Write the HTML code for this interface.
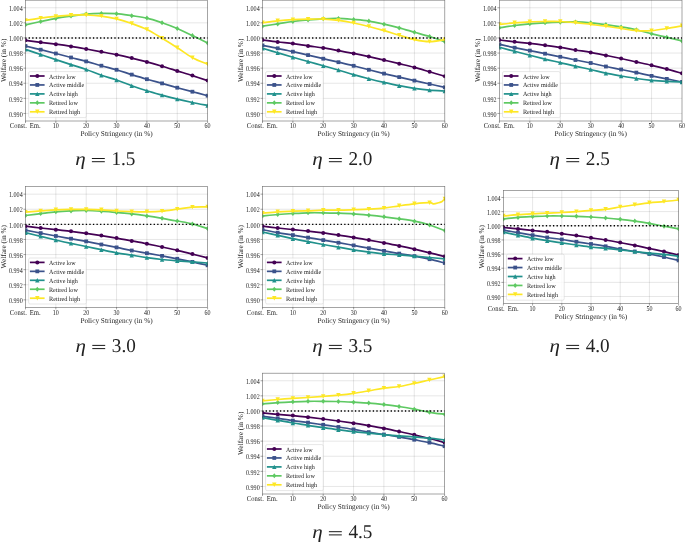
<!DOCTYPE html>
<html><head><meta charset="utf-8"><style>
html,body{margin:0;padding:0;background:#fff;overflow:hidden;}
svg{display:block;font-family:"Liberation Serif",serif;text-rendering:geometricPrecision;will-change:transform;}
text{fill:#222;}
</style></head><body>
<svg width="685" height="542" viewBox="0 0 685 542">
<rect width="685" height="542" fill="#fff"/>
<clipPath id="clip25_0"><rect x="25.5" y="0.2" width="182.1" height="120.8"/></clipPath>
<path d="M55.85 0.2V121M86.2 0.2V121M116.55 0.2V121M146.9 0.2V121M177.25 0.2V121" stroke="#000" stroke-opacity="0.14" stroke-width="0.7" fill="none"/>
<path d="M25.5 113.45H207.6M25.5 98.35H207.6M25.5 83.25H207.6M25.5 68.15H207.6M25.5 53.05H207.6M25.5 37.95H207.6M25.5 22.85H207.6M25.5 7.75H207.6" stroke="#000" stroke-opacity="0.14" stroke-width="0.7" fill="none"/>
<g clip-path="url(#clip25_0)"><path d="M25.5 40.3C28.03 40.63 35.62 41.65 40.67 42.3C45.73 42.95 50.79 43.52 55.85 44.2C60.91 44.88 65.97 45.6 71.03 46.4C76.08 47.2 81.14 48.1 86.2 49C91.26 49.9 96.32 50.85 101.38 51.8C106.43 52.75 111.49 53.65 116.55 54.7C121.61 55.75 126.67 56.9 131.73 58.1C136.78 59.3 141.84 60.55 146.9 61.9C151.96 63.25 157.02 64.7 162.07 66.2C167.13 67.7 172.19 69.33 177.25 70.9C182.31 72.47 187.37 73.98 192.42 75.6C197.48 77.22 205.07 79.77 207.6 80.6" stroke="#440154" stroke-width="1.7" fill="none" stroke-linejoin="round"/><circle cx="25.5" cy="40.3" r="2" fill="#440154"/><circle cx="40.67" cy="42.3" r="2" fill="#440154"/><circle cx="55.85" cy="44.2" r="2" fill="#440154"/><circle cx="71.03" cy="46.4" r="2" fill="#440154"/><circle cx="86.2" cy="49" r="2" fill="#440154"/><circle cx="101.38" cy="51.8" r="2" fill="#440154"/><circle cx="116.55" cy="54.7" r="2" fill="#440154"/><circle cx="131.73" cy="58.1" r="2" fill="#440154"/><circle cx="146.9" cy="61.9" r="2" fill="#440154"/><circle cx="162.07" cy="66.2" r="2" fill="#440154"/><circle cx="177.25" cy="70.9" r="2" fill="#440154"/><circle cx="192.42" cy="75.6" r="2" fill="#440154"/><circle cx="207.6" cy="80.6" r="2" fill="#440154"/><path d="M25.5 46C28.03 46.62 35.62 48.45 40.67 49.7C45.73 50.95 50.79 52.2 55.85 53.5C60.91 54.8 65.97 56.18 71.03 57.5C76.08 58.82 81.14 60.03 86.2 61.4C91.26 62.77 96.32 64.3 101.38 65.7C106.43 67.1 111.49 68.32 116.55 69.8C121.61 71.28 126.67 73.03 131.73 74.6C136.78 76.17 141.84 77.73 146.9 79.2C151.96 80.67 157.02 81.98 162.07 83.4C167.13 84.82 172.19 86.32 177.25 87.7C182.31 89.08 187.37 90.37 192.42 91.7C197.48 93.03 205.07 95.03 207.6 95.7" stroke="#3b528b" stroke-width="1.7" fill="none" stroke-linejoin="round"/><rect x="23.6" y="44.1" width="3.8" height="3.8" fill="#3b528b"/><rect x="38.77" y="47.8" width="3.8" height="3.8" fill="#3b528b"/><rect x="53.95" y="51.6" width="3.8" height="3.8" fill="#3b528b"/><rect x="69.12" y="55.6" width="3.8" height="3.8" fill="#3b528b"/><rect x="84.3" y="59.5" width="3.8" height="3.8" fill="#3b528b"/><rect x="99.47" y="63.8" width="3.8" height="3.8" fill="#3b528b"/><rect x="114.65" y="67.9" width="3.8" height="3.8" fill="#3b528b"/><rect x="129.83" y="72.7" width="3.8" height="3.8" fill="#3b528b"/><rect x="145" y="77.3" width="3.8" height="3.8" fill="#3b528b"/><rect x="160.17" y="81.5" width="3.8" height="3.8" fill="#3b528b"/><rect x="175.35" y="85.8" width="3.8" height="3.8" fill="#3b528b"/><rect x="190.52" y="89.8" width="3.8" height="3.8" fill="#3b528b"/><rect x="205.7" y="93.8" width="3.8" height="3.8" fill="#3b528b"/><path d="M25.5 49.4C28.03 50.25 35.62 52.8 40.67 54.5C45.73 56.2 50.79 57.92 55.85 59.6C60.91 61.28 65.97 62.95 71.03 64.6C76.08 66.25 81.14 67.73 86.2 69.5C91.26 71.27 96.32 73.45 101.38 75.2C106.43 76.95 111.49 78.25 116.55 80C121.61 81.75 126.67 83.9 131.73 85.7C136.78 87.5 141.84 89.23 146.9 90.8C151.96 92.37 157.02 93.72 162.07 95.1C167.13 96.48 172.19 97.87 177.25 99.1C182.31 100.33 187.37 101.43 192.42 102.5C197.48 103.57 205.07 105 207.6 105.5" stroke="#21918c" stroke-width="1.7" fill="none" stroke-linejoin="round"/><path d="M25.5 47.2L27.7 51.6L23.3 51.6Z" fill="#21918c"/><path d="M40.67 52.3L42.88 56.7L38.47 56.7Z" fill="#21918c"/><path d="M55.85 57.4L58.05 61.8L53.65 61.8Z" fill="#21918c"/><path d="M71.03 62.4L73.23 66.8L68.83 66.8Z" fill="#21918c"/><path d="M86.2 67.3L88.4 71.7L84 71.7Z" fill="#21918c"/><path d="M101.38 73L103.58 77.4L99.17 77.4Z" fill="#21918c"/><path d="M116.55 77.8L118.75 82.2L114.35 82.2Z" fill="#21918c"/><path d="M131.73 83.5L133.93 87.9L129.53 87.9Z" fill="#21918c"/><path d="M146.9 88.6L149.1 93L144.7 93Z" fill="#21918c"/><path d="M162.07 92.9L164.27 97.3L159.88 97.3Z" fill="#21918c"/><path d="M177.25 96.9L179.45 101.3L175.05 101.3Z" fill="#21918c"/><path d="M192.42 100.3L194.62 104.7L190.22 104.7Z" fill="#21918c"/><path d="M207.6 103.3L209.8 107.7L205.4 107.7Z" fill="#21918c"/><path d="M25.5 24.8C28.03 24.25 35.62 22.57 40.67 21.5C45.73 20.43 50.79 19.3 55.85 18.4C60.91 17.5 65.97 16.82 71.03 16.1C76.08 15.38 81.14 14.55 86.2 14.1C91.26 13.65 96.32 13.47 101.38 13.4C106.43 13.33 111.49 13.32 116.55 13.7C121.61 14.08 126.67 14.97 131.73 15.7C136.78 16.43 141.84 16.92 146.9 18.1C151.96 19.28 157.02 21.07 162.07 22.8C167.13 24.53 172.19 26.37 177.25 28.5C182.31 30.63 187.37 33.18 192.42 35.6C197.48 38.02 205.07 41.77 207.6 43" stroke="#5ec962" stroke-width="1.7" fill="none" stroke-linejoin="round"/><path d="M25.5 22.3L27.5 24.8L25.5 27.3L23.5 24.8Z" fill="#5ec962"/><path d="M40.67 19L42.67 21.5L40.67 24L38.67 21.5Z" fill="#5ec962"/><path d="M55.85 15.9L57.85 18.4L55.85 20.9L53.85 18.4Z" fill="#5ec962"/><path d="M71.03 13.6L73.03 16.1L71.03 18.6L69.03 16.1Z" fill="#5ec962"/><path d="M86.2 11.6L88.2 14.1L86.2 16.6L84.2 14.1Z" fill="#5ec962"/><path d="M101.38 10.9L103.38 13.4L101.38 15.9L99.38 13.4Z" fill="#5ec962"/><path d="M116.55 11.2L118.55 13.7L116.55 16.2L114.55 13.7Z" fill="#5ec962"/><path d="M131.73 13.2L133.73 15.7L131.73 18.2L129.73 15.7Z" fill="#5ec962"/><path d="M146.9 15.6L148.9 18.1L146.9 20.6L144.9 18.1Z" fill="#5ec962"/><path d="M162.07 20.3L164.07 22.8L162.07 25.3L160.07 22.8Z" fill="#5ec962"/><path d="M177.25 26L179.25 28.5L177.25 31L175.25 28.5Z" fill="#5ec962"/><path d="M192.42 33.1L194.42 35.6L192.42 38.1L190.42 35.6Z" fill="#5ec962"/><path d="M207.6 40.5L209.6 43L207.6 45.5L205.6 43Z" fill="#5ec962"/><path d="M25.5 20.4C28.03 20.02 35.62 18.77 40.67 18.1C45.73 17.43 50.79 16.88 55.85 16.4C60.91 15.92 65.97 15.43 71.03 15.2C76.08 14.97 81.14 14.85 86.2 15C91.26 15.15 96.32 15.45 101.38 16.1C106.43 16.75 111.49 17.67 116.55 18.9C121.61 20.13 126.67 21.73 131.73 23.5C136.78 25.27 141.84 27.03 146.9 29.5C151.96 31.97 157.02 35.27 162.07 38.3C167.13 41.33 172.19 44.47 177.25 47.7C182.31 50.93 187.37 54.95 192.42 57.7C197.48 60.45 205.07 63.12 207.6 64.2" stroke="#fde725" stroke-width="1.7" fill="none" stroke-linejoin="round"/><path d="M25.5 22.6L27.7 18.2L23.3 18.2Z" fill="#fde725"/><path d="M40.67 20.3L42.88 15.9L38.47 15.9Z" fill="#fde725"/><path d="M55.85 18.6L58.05 14.2L53.65 14.2Z" fill="#fde725"/><path d="M71.03 17.4L73.23 13L68.83 13Z" fill="#fde725"/><path d="M86.2 17.2L88.4 12.8L84 12.8Z" fill="#fde725"/><path d="M101.38 18.3L103.58 13.9L99.17 13.9Z" fill="#fde725"/><path d="M116.55 21.1L118.75 16.7L114.35 16.7Z" fill="#fde725"/><path d="M131.73 25.7L133.93 21.3L129.53 21.3Z" fill="#fde725"/><path d="M146.9 31.7L149.1 27.3L144.7 27.3Z" fill="#fde725"/><path d="M162.07 40.5L164.27 36.1L159.88 36.1Z" fill="#fde725"/><path d="M177.25 49.9L179.45 45.5L175.05 45.5Z" fill="#fde725"/><path d="M192.42 59.9L194.62 55.5L190.22 55.5Z" fill="#fde725"/><path d="M207.6 66.4L209.8 62L205.4 62Z" fill="#fde725"/></g>
<path d="M25.5 37.95H207.6" stroke="#000" stroke-width="1.35" stroke-dasharray="1.35 2.221" stroke-dashoffset="0.45" fill="none"/>
<rect x="28.6" y="71.6" width="57.7" height="46" rx="1.5" fill="#fff" fill-opacity="0.8" stroke="#ccc" stroke-opacity="0.8" stroke-width="0.6"/>
<path d="M29.9 76H44.6" stroke="#440154" stroke-width="1.7"/>
<circle cx="37.3" cy="76" r="2" fill="#440154"/>
<text x="49" y="78.5" font-size="6.4" text-anchor="start" textLength="26.6" lengthAdjust="spacingAndGlyphs">Active low</text>
<path d="M29.9 84.95H44.6" stroke="#3b528b" stroke-width="1.7"/>
<rect x="35.4" y="83.05" width="3.8" height="3.8" fill="#3b528b"/>
<text x="49" y="87.45" font-size="6.4" text-anchor="start" textLength="35.2" lengthAdjust="spacingAndGlyphs">Active middle</text>
<path d="M29.9 93.9H44.6" stroke="#21918c" stroke-width="1.7"/>
<path d="M37.3 91.7L39.5 96.1L35.1 96.1Z" fill="#21918c"/>
<text x="49" y="96.4" font-size="6.4" text-anchor="start" textLength="28.8" lengthAdjust="spacingAndGlyphs">Active high</text>
<path d="M29.9 102.85H44.6" stroke="#5ec962" stroke-width="1.7"/>
<path d="M37.3 100.35L39.3 102.85L37.3 105.35L35.3 102.85Z" fill="#5ec962"/>
<text x="49" y="105.35" font-size="6.4" text-anchor="start" textLength="28.9" lengthAdjust="spacingAndGlyphs">Retired low</text>
<path d="M29.9 111.8H44.6" stroke="#fde725" stroke-width="1.7"/>
<path d="M37.3 114L39.5 109.6L35.1 109.6Z" fill="#fde725"/>
<text x="49" y="114.3" font-size="6.4" text-anchor="start" textLength="31.2" lengthAdjust="spacingAndGlyphs">Retired high</text>
<rect x="25.5" y="0.2" width="182.1" height="120.8" fill="none" stroke="#000" stroke-opacity="0.55" stroke-width="0.65"/>
<path d="M25.5 121v2.0M55.85 121v2.0M86.2 121v2.0M116.55 121v2.0M146.9 121v2.0M177.25 121v2.0M207.6 121v2.0M25.5 113.45h-2.0M25.5 98.35h-2.0M25.5 83.25h-2.0M25.5 68.15h-2.0M25.5 53.05h-2.0M25.5 37.95h-2.0M25.5 22.85h-2.0M25.5 7.75h-2.0" stroke="#000" stroke-opacity="0.55" stroke-width="0.65"/>
<text x="22.7" y="116.65" font-size="7.5" text-anchor="end" textLength="13.7" lengthAdjust="spacingAndGlyphs">0.990</text>
<text x="22.7" y="101.55" font-size="7.5" text-anchor="end" textLength="13.7" lengthAdjust="spacingAndGlyphs">0.992</text>
<text x="22.7" y="86.45" font-size="7.5" text-anchor="end" textLength="13.7" lengthAdjust="spacingAndGlyphs">0.994</text>
<text x="22.7" y="71.35" font-size="7.5" text-anchor="end" textLength="13.7" lengthAdjust="spacingAndGlyphs">0.996</text>
<text x="22.7" y="56.25" font-size="7.5" text-anchor="end" textLength="13.7" lengthAdjust="spacingAndGlyphs">0.998</text>
<text x="22.7" y="41.15" font-size="7.5" text-anchor="end" textLength="13.7" lengthAdjust="spacingAndGlyphs">1.000</text>
<text x="22.7" y="26.05" font-size="7.5" text-anchor="end" textLength="13.7" lengthAdjust="spacingAndGlyphs">1.002</text>
<text x="22.7" y="10.95" font-size="7.5" text-anchor="end" textLength="13.7" lengthAdjust="spacingAndGlyphs">1.004</text>
<text x="9.8" y="128.4" font-size="7.5" text-anchor="start" textLength="17" lengthAdjust="spacingAndGlyphs">Const.</text>
<text x="29.8" y="128.4" font-size="7.5" text-anchor="start" textLength="10.9" lengthAdjust="spacingAndGlyphs">Em.</text>
<text x="55.85" y="128.4" font-size="7.5" text-anchor="middle" textLength="6" lengthAdjust="spacingAndGlyphs">10</text>
<text x="86.2" y="128.4" font-size="7.5" text-anchor="middle" textLength="6" lengthAdjust="spacingAndGlyphs">20</text>
<text x="116.55" y="128.4" font-size="7.5" text-anchor="middle" textLength="6" lengthAdjust="spacingAndGlyphs">30</text>
<text x="146.9" y="128.4" font-size="7.5" text-anchor="middle" textLength="6" lengthAdjust="spacingAndGlyphs">40</text>
<text x="177.25" y="128.4" font-size="7.5" text-anchor="middle" textLength="6" lengthAdjust="spacingAndGlyphs">50</text>
<text x="207.6" y="128.4" font-size="7.5" text-anchor="middle" textLength="6" lengthAdjust="spacingAndGlyphs">60</text>
<text x="116.55" y="136.2" font-size="7.4" text-anchor="middle" textLength="72.3" lengthAdjust="spacingAndGlyphs">Policy Stringency (in %)</text>
<text transform="translate(6.3 60.3) rotate(-90)" x="0" y="0" font-size="7.4" text-anchor="middle" textLength="43.4" lengthAdjust="spacingAndGlyphs">Welfare (in %)</text>
<text transform="translate(75.2 165.1) scale(1.12 1)" x="0" y="0" font-size="18.8" font-style="italic">η</text>
<path d="M91.9 158.5h12.9M91.9 161.7h12.9" stroke="#1a1a1a" stroke-width="1.0"/>
<text x="135.4" y="164.8" font-size="19.5" text-anchor="end" textLength="24.0" lengthAdjust="spacingAndGlyphs">1.5</text>
<clipPath id="clip262_0"><rect x="262.5" y="0.2" width="182.3" height="120.8"/></clipPath>
<path d="M292.88 0.2V121M323.27 0.2V121M353.65 0.2V121M384.03 0.2V121M414.42 0.2V121" stroke="#000" stroke-opacity="0.14" stroke-width="0.7" fill="none"/>
<path d="M262.5 113.45H444.8M262.5 98.35H444.8M262.5 83.25H444.8M262.5 68.15H444.8M262.5 53.05H444.8M262.5 37.95H444.8M262.5 22.85H444.8M262.5 7.75H444.8" stroke="#000" stroke-opacity="0.14" stroke-width="0.7" fill="none"/>
<g clip-path="url(#clip262_0)"><path d="M262.5 40C265.03 40.33 272.63 41.4 277.69 42C282.76 42.6 287.82 42.95 292.88 43.6C297.95 44.25 303.01 45.18 308.07 45.9C313.14 46.62 318.2 47.12 323.27 47.9C328.33 48.68 333.39 49.68 338.46 50.6C343.52 51.52 348.59 52.4 353.65 53.4C358.71 54.4 363.78 55.48 368.84 56.6C373.91 57.72 378.97 58.92 384.03 60.1C389.1 61.28 394.16 62.48 399.23 63.7C404.29 64.92 409.35 66.05 414.42 67.4C419.48 68.75 424.54 70.32 429.61 71.8C434.67 73.28 442.27 75.55 444.8 76.3" stroke="#440154" stroke-width="1.7" fill="none" stroke-linejoin="round"/><circle cx="262.5" cy="40" r="2" fill="#440154"/><circle cx="277.69" cy="42" r="2" fill="#440154"/><circle cx="292.88" cy="43.6" r="2" fill="#440154"/><circle cx="308.07" cy="45.9" r="2" fill="#440154"/><circle cx="323.27" cy="47.9" r="2" fill="#440154"/><circle cx="338.46" cy="50.6" r="2" fill="#440154"/><circle cx="353.65" cy="53.4" r="2" fill="#440154"/><circle cx="368.84" cy="56.6" r="2" fill="#440154"/><circle cx="384.03" cy="60.1" r="2" fill="#440154"/><circle cx="399.23" cy="63.7" r="2" fill="#440154"/><circle cx="414.42" cy="67.4" r="2" fill="#440154"/><circle cx="429.61" cy="71.8" r="2" fill="#440154"/><circle cx="444.8" cy="76.3" r="2" fill="#440154"/><path d="M262.5 45.4C265.03 45.88 272.63 47.25 277.69 48.3C282.76 49.35 287.82 50.57 292.88 51.7C297.95 52.83 303.01 53.93 308.07 55.1C313.14 56.27 318.2 57.52 323.27 58.7C328.33 59.88 333.39 61.02 338.46 62.2C343.52 63.38 348.59 64.53 353.65 65.8C358.71 67.07 363.78 68.5 368.84 69.8C373.91 71.1 378.97 72.38 384.03 73.6C389.1 74.82 394.16 75.93 399.23 77.1C404.29 78.27 409.35 79.45 414.42 80.6C419.48 81.75 424.54 82.88 429.61 84C434.67 85.12 442.27 86.75 444.8 87.3" stroke="#3b528b" stroke-width="1.7" fill="none" stroke-linejoin="round"/><rect x="260.6" y="43.5" width="3.8" height="3.8" fill="#3b528b"/><rect x="275.79" y="46.4" width="3.8" height="3.8" fill="#3b528b"/><rect x="290.98" y="49.8" width="3.8" height="3.8" fill="#3b528b"/><rect x="306.18" y="53.2" width="3.8" height="3.8" fill="#3b528b"/><rect x="321.37" y="56.8" width="3.8" height="3.8" fill="#3b528b"/><rect x="336.56" y="60.3" width="3.8" height="3.8" fill="#3b528b"/><rect x="351.75" y="63.9" width="3.8" height="3.8" fill="#3b528b"/><rect x="366.94" y="67.9" width="3.8" height="3.8" fill="#3b528b"/><rect x="382.13" y="71.7" width="3.8" height="3.8" fill="#3b528b"/><rect x="397.33" y="75.2" width="3.8" height="3.8" fill="#3b528b"/><rect x="412.52" y="78.7" width="3.8" height="3.8" fill="#3b528b"/><rect x="427.71" y="82.1" width="3.8" height="3.8" fill="#3b528b"/><rect x="442.9" y="85.4" width="3.8" height="3.8" fill="#3b528b"/><path d="M262.5 48.3C265.03 49.05 272.63 51.3 277.69 52.8C282.76 54.3 287.82 55.85 292.88 57.3C297.95 58.75 303.01 60.08 308.07 61.5C313.14 62.92 318.2 64.38 323.27 65.8C328.33 67.22 333.39 68.53 338.46 70C343.52 71.47 348.59 73.15 353.65 74.6C358.71 76.05 363.78 77.4 368.84 78.7C373.91 80 378.97 81.23 384.03 82.4C389.1 83.57 394.16 84.72 399.23 85.7C404.29 86.68 409.35 87.57 414.42 88.3C419.48 89.03 424.54 89.65 429.61 90.1C434.67 90.55 442.27 90.85 444.8 91" stroke="#21918c" stroke-width="1.7" fill="none" stroke-linejoin="round"/><path d="M262.5 46.1L264.7 50.5L260.3 50.5Z" fill="#21918c"/><path d="M277.69 50.6L279.89 55L275.49 55Z" fill="#21918c"/><path d="M292.88 55.1L295.08 59.5L290.68 59.5Z" fill="#21918c"/><path d="M308.07 59.3L310.27 63.7L305.88 63.7Z" fill="#21918c"/><path d="M323.27 63.6L325.47 68L321.07 68Z" fill="#21918c"/><path d="M338.46 67.8L340.66 72.2L336.26 72.2Z" fill="#21918c"/><path d="M353.65 72.4L355.85 76.8L351.45 76.8Z" fill="#21918c"/><path d="M368.84 76.5L371.04 80.9L366.64 80.9Z" fill="#21918c"/><path d="M384.03 80.2L386.23 84.6L381.83 84.6Z" fill="#21918c"/><path d="M399.23 83.5L401.43 87.9L397.03 87.9Z" fill="#21918c"/><path d="M414.42 86.1L416.62 90.5L412.22 90.5Z" fill="#21918c"/><path d="M429.61 87.9L431.81 92.3L427.41 92.3Z" fill="#21918c"/><path d="M444.8 88.8L447 93.2L442.6 93.2Z" fill="#21918c"/><path d="M262.5 26.2C265.03 25.82 272.63 24.68 277.69 23.9C282.76 23.12 287.82 22.17 292.88 21.5C297.95 20.83 303.01 20.35 308.07 19.9C313.14 19.45 318.2 19.05 323.27 18.8C328.33 18.55 333.39 18.28 338.46 18.4C343.52 18.52 348.59 19.05 353.65 19.5C358.71 19.95 363.78 20.32 368.84 21.1C373.91 21.88 378.97 23.07 384.03 24.2C389.1 25.33 394.16 26.57 399.23 27.9C404.29 29.23 409.35 30.77 414.42 32.2C419.48 33.63 424.54 34.93 429.61 36.5C434.67 38.07 442.27 40.75 444.8 41.6" stroke="#5ec962" stroke-width="1.7" fill="none" stroke-linejoin="round"/><path d="M262.5 23.7L264.5 26.2L262.5 28.7L260.5 26.2Z" fill="#5ec962"/><path d="M277.69 21.4L279.69 23.9L277.69 26.4L275.69 23.9Z" fill="#5ec962"/><path d="M292.88 19L294.88 21.5L292.88 24L290.88 21.5Z" fill="#5ec962"/><path d="M308.07 17.4L310.07 19.9L308.07 22.4L306.07 19.9Z" fill="#5ec962"/><path d="M323.27 16.3L325.27 18.8L323.27 21.3L321.27 18.8Z" fill="#5ec962"/><path d="M338.46 15.9L340.46 18.4L338.46 20.9L336.46 18.4Z" fill="#5ec962"/><path d="M353.65 17L355.65 19.5L353.65 22L351.65 19.5Z" fill="#5ec962"/><path d="M368.84 18.6L370.84 21.1L368.84 23.6L366.84 21.1Z" fill="#5ec962"/><path d="M384.03 21.7L386.03 24.2L384.03 26.7L382.03 24.2Z" fill="#5ec962"/><path d="M399.23 25.4L401.23 27.9L399.23 30.4L397.23 27.9Z" fill="#5ec962"/><path d="M414.42 29.7L416.42 32.2L414.42 34.7L412.42 32.2Z" fill="#5ec962"/><path d="M429.61 34L431.61 36.5L429.61 39L427.61 36.5Z" fill="#5ec962"/><path d="M444.8 39.1L446.8 41.6L444.8 44.1L442.8 41.6Z" fill="#5ec962"/><path d="M262.5 22.8C265.03 22.47 272.63 21.33 277.69 20.8C282.76 20.27 287.82 19.88 292.88 19.6C297.95 19.32 303.01 19.18 308.07 19.1C313.14 19.02 318.2 18.88 323.27 19.1C328.33 19.32 333.39 19.75 338.46 20.4C343.52 21.05 348.59 21.98 353.65 23C358.71 24.02 363.78 25.23 368.84 26.5C373.91 27.77 378.97 29.15 384.03 30.6C389.1 32.05 394.16 33.7 399.23 35.2C404.29 36.7 409.35 38.53 414.42 39.6C419.48 40.67 424.54 41.6 429.61 41.6C434.67 41.6 442.27 39.93 444.8 39.6" stroke="#fde725" stroke-width="1.7" fill="none" stroke-linejoin="round"/><path d="M262.5 25L264.7 20.6L260.3 20.6Z" fill="#fde725"/><path d="M277.69 23L279.89 18.6L275.49 18.6Z" fill="#fde725"/><path d="M292.88 21.8L295.08 17.4L290.68 17.4Z" fill="#fde725"/><path d="M308.07 21.3L310.27 16.9L305.88 16.9Z" fill="#fde725"/><path d="M323.27 21.3L325.47 16.9L321.07 16.9Z" fill="#fde725"/><path d="M338.46 22.6L340.66 18.2L336.26 18.2Z" fill="#fde725"/><path d="M353.65 25.2L355.85 20.8L351.45 20.8Z" fill="#fde725"/><path d="M368.84 28.7L371.04 24.3L366.64 24.3Z" fill="#fde725"/><path d="M384.03 32.8L386.23 28.4L381.83 28.4Z" fill="#fde725"/><path d="M399.23 37.4L401.43 33L397.03 33Z" fill="#fde725"/><path d="M414.42 41.8L416.62 37.4L412.22 37.4Z" fill="#fde725"/><path d="M429.61 43.8L431.81 39.4L427.41 39.4Z" fill="#fde725"/><path d="M444.8 41.8L447 37.4L442.6 37.4Z" fill="#fde725"/></g>
<path d="M262.5 37.95H444.8" stroke="#000" stroke-width="1.35" stroke-dasharray="1.35 2.221" stroke-dashoffset="0.45" fill="none"/>
<rect x="265.6" y="71.6" width="57.7" height="46" rx="1.5" fill="#fff" fill-opacity="0.8" stroke="#ccc" stroke-opacity="0.8" stroke-width="0.6"/>
<path d="M266.9 76H281.6" stroke="#440154" stroke-width="1.7"/>
<circle cx="274.3" cy="76" r="2" fill="#440154"/>
<text x="286" y="78.5" font-size="6.4" text-anchor="start" textLength="26.6" lengthAdjust="spacingAndGlyphs">Active low</text>
<path d="M266.9 84.95H281.6" stroke="#3b528b" stroke-width="1.7"/>
<rect x="272.4" y="83.05" width="3.8" height="3.8" fill="#3b528b"/>
<text x="286" y="87.45" font-size="6.4" text-anchor="start" textLength="35.2" lengthAdjust="spacingAndGlyphs">Active middle</text>
<path d="M266.9 93.9H281.6" stroke="#21918c" stroke-width="1.7"/>
<path d="M274.3 91.7L276.5 96.1L272.1 96.1Z" fill="#21918c"/>
<text x="286" y="96.4" font-size="6.4" text-anchor="start" textLength="28.8" lengthAdjust="spacingAndGlyphs">Active high</text>
<path d="M266.9 102.85H281.6" stroke="#5ec962" stroke-width="1.7"/>
<path d="M274.3 100.35L276.3 102.85L274.3 105.35L272.3 102.85Z" fill="#5ec962"/>
<text x="286" y="105.35" font-size="6.4" text-anchor="start" textLength="28.9" lengthAdjust="spacingAndGlyphs">Retired low</text>
<path d="M266.9 111.8H281.6" stroke="#fde725" stroke-width="1.7"/>
<path d="M274.3 114L276.5 109.6L272.1 109.6Z" fill="#fde725"/>
<text x="286" y="114.3" font-size="6.4" text-anchor="start" textLength="31.2" lengthAdjust="spacingAndGlyphs">Retired high</text>
<rect x="262.5" y="0.2" width="182.3" height="120.8" fill="none" stroke="#000" stroke-opacity="0.55" stroke-width="0.65"/>
<path d="M262.5 121v2.0M292.88 121v2.0M323.27 121v2.0M353.65 121v2.0M384.03 121v2.0M414.42 121v2.0M444.8 121v2.0M262.5 113.45h-2.0M262.5 98.35h-2.0M262.5 83.25h-2.0M262.5 68.15h-2.0M262.5 53.05h-2.0M262.5 37.95h-2.0M262.5 22.85h-2.0M262.5 7.75h-2.0" stroke="#000" stroke-opacity="0.55" stroke-width="0.65"/>
<text x="259.7" y="116.65" font-size="7.5" text-anchor="end" textLength="13.7" lengthAdjust="spacingAndGlyphs">0.990</text>
<text x="259.7" y="101.55" font-size="7.5" text-anchor="end" textLength="13.7" lengthAdjust="spacingAndGlyphs">0.992</text>
<text x="259.7" y="86.45" font-size="7.5" text-anchor="end" textLength="13.7" lengthAdjust="spacingAndGlyphs">0.994</text>
<text x="259.7" y="71.35" font-size="7.5" text-anchor="end" textLength="13.7" lengthAdjust="spacingAndGlyphs">0.996</text>
<text x="259.7" y="56.25" font-size="7.5" text-anchor="end" textLength="13.7" lengthAdjust="spacingAndGlyphs">0.998</text>
<text x="259.7" y="41.15" font-size="7.5" text-anchor="end" textLength="13.7" lengthAdjust="spacingAndGlyphs">1.000</text>
<text x="259.7" y="26.05" font-size="7.5" text-anchor="end" textLength="13.7" lengthAdjust="spacingAndGlyphs">1.002</text>
<text x="259.7" y="10.95" font-size="7.5" text-anchor="end" textLength="13.7" lengthAdjust="spacingAndGlyphs">1.004</text>
<text x="246.8" y="128.4" font-size="7.5" text-anchor="start" textLength="17" lengthAdjust="spacingAndGlyphs">Const.</text>
<text x="266.8" y="128.4" font-size="7.5" text-anchor="start" textLength="10.9" lengthAdjust="spacingAndGlyphs">Em.</text>
<text x="292.88" y="128.4" font-size="7.5" text-anchor="middle" textLength="6" lengthAdjust="spacingAndGlyphs">10</text>
<text x="323.27" y="128.4" font-size="7.5" text-anchor="middle" textLength="6" lengthAdjust="spacingAndGlyphs">20</text>
<text x="353.65" y="128.4" font-size="7.5" text-anchor="middle" textLength="6" lengthAdjust="spacingAndGlyphs">30</text>
<text x="384.03" y="128.4" font-size="7.5" text-anchor="middle" textLength="6" lengthAdjust="spacingAndGlyphs">40</text>
<text x="414.42" y="128.4" font-size="7.5" text-anchor="middle" textLength="6" lengthAdjust="spacingAndGlyphs">50</text>
<text x="444.8" y="128.4" font-size="7.5" text-anchor="middle" textLength="6" lengthAdjust="spacingAndGlyphs">60</text>
<text x="353.65" y="136.2" font-size="7.4" text-anchor="middle" textLength="72.3" lengthAdjust="spacingAndGlyphs">Policy Stringency (in %)</text>
<text transform="translate(243.3 60.3) rotate(-90)" x="0" y="0" font-size="7.4" text-anchor="middle" textLength="43.4" lengthAdjust="spacingAndGlyphs">Welfare (in %)</text>
<text transform="translate(312.2 165.1) scale(1.12 1)" x="0" y="0" font-size="18.8" font-style="italic">η</text>
<path d="M328.9 158.5h12.9M328.9 161.7h12.9" stroke="#1a1a1a" stroke-width="1.0"/>
<text x="372.4" y="164.8" font-size="19.5" text-anchor="end" textLength="24.0" lengthAdjust="spacingAndGlyphs">2.0</text>
<clipPath id="clip499_0"><rect x="499.4" y="0.2" width="182.6" height="120.8"/></clipPath>
<path d="M529.83 0.2V121M560.27 0.2V121M590.7 0.2V121M621.13 0.2V121M651.57 0.2V121" stroke="#000" stroke-opacity="0.14" stroke-width="0.7" fill="none"/>
<path d="M499.4 113.45H682M499.4 98.35H682M499.4 83.25H682M499.4 68.15H682M499.4 53.05H682M499.4 37.95H682M499.4 22.85H682M499.4 7.75H682" stroke="#000" stroke-opacity="0.14" stroke-width="0.7" fill="none"/>
<g clip-path="url(#clip499_0)"><path d="M499.4 40C501.94 40.3 509.54 41.23 514.62 41.8C519.69 42.37 524.76 42.82 529.83 43.4C534.91 43.98 539.98 44.63 545.05 45.3C550.12 45.97 555.19 46.62 560.27 47.4C565.34 48.18 570.41 49.17 575.48 50C580.56 50.83 585.63 51.5 590.7 52.4C595.77 53.3 600.84 54.38 605.92 55.4C610.99 56.42 616.06 57.42 621.13 58.5C626.21 59.58 631.28 60.77 636.35 61.9C641.42 63.03 646.49 64.1 651.57 65.3C656.64 66.5 661.71 67.77 666.78 69.1C671.86 70.43 679.46 72.6 682 73.3" stroke="#440154" stroke-width="1.7" fill="none" stroke-linejoin="round"/><circle cx="499.4" cy="40" r="2" fill="#440154"/><circle cx="514.62" cy="41.8" r="2" fill="#440154"/><circle cx="529.83" cy="43.4" r="2" fill="#440154"/><circle cx="545.05" cy="45.3" r="2" fill="#440154"/><circle cx="560.27" cy="47.4" r="2" fill="#440154"/><circle cx="575.48" cy="50" r="2" fill="#440154"/><circle cx="590.7" cy="52.4" r="2" fill="#440154"/><circle cx="605.92" cy="55.4" r="2" fill="#440154"/><circle cx="621.13" cy="58.5" r="2" fill="#440154"/><circle cx="636.35" cy="61.9" r="2" fill="#440154"/><circle cx="651.57" cy="65.3" r="2" fill="#440154"/><circle cx="666.78" cy="69.1" r="2" fill="#440154"/><circle cx="682" cy="73.3" r="2" fill="#440154"/><path d="M499.4 44.3C501.94 44.87 509.54 46.65 514.62 47.7C519.69 48.75 524.76 49.6 529.83 50.6C534.91 51.6 539.98 52.67 545.05 53.7C550.12 54.73 555.19 55.75 560.27 56.8C565.34 57.85 570.41 58.97 575.48 60C580.56 61.03 585.63 61.92 590.7 63C595.77 64.08 600.84 65.42 605.92 66.5C610.99 67.58 616.06 68.48 621.13 69.5C626.21 70.52 631.28 71.53 636.35 72.6C641.42 73.67 646.49 74.85 651.57 75.9C656.64 76.95 661.71 77.88 666.78 78.9C671.86 79.92 679.46 81.48 682 82" stroke="#3b528b" stroke-width="1.7" fill="none" stroke-linejoin="round"/><rect x="497.5" y="42.4" width="3.8" height="3.8" fill="#3b528b"/><rect x="512.72" y="45.8" width="3.8" height="3.8" fill="#3b528b"/><rect x="527.93" y="48.7" width="3.8" height="3.8" fill="#3b528b"/><rect x="543.15" y="51.8" width="3.8" height="3.8" fill="#3b528b"/><rect x="558.37" y="54.9" width="3.8" height="3.8" fill="#3b528b"/><rect x="573.58" y="58.1" width="3.8" height="3.8" fill="#3b528b"/><rect x="588.8" y="61.1" width="3.8" height="3.8" fill="#3b528b"/><rect x="604.02" y="64.6" width="3.8" height="3.8" fill="#3b528b"/><rect x="619.23" y="67.6" width="3.8" height="3.8" fill="#3b528b"/><rect x="634.45" y="70.7" width="3.8" height="3.8" fill="#3b528b"/><rect x="649.67" y="74" width="3.8" height="3.8" fill="#3b528b"/><rect x="664.88" y="77" width="3.8" height="3.8" fill="#3b528b"/><rect x="680.1" y="80.1" width="3.8" height="3.8" fill="#3b528b"/><path d="M499.4 47.3C501.94 47.97 509.54 49.97 514.62 51.3C519.69 52.63 524.76 54 529.83 55.3C534.91 56.6 539.98 57.88 545.05 59.1C550.12 60.32 555.19 61.42 560.27 62.6C565.34 63.78 570.41 65.05 575.48 66.2C580.56 67.35 585.63 68.33 590.7 69.5C595.77 70.67 600.84 72.12 605.92 73.2C610.99 74.28 616.06 75.12 621.13 76C626.21 76.88 631.28 77.78 636.35 78.5C641.42 79.22 646.49 79.82 651.57 80.3C656.64 80.78 661.71 81.12 666.78 81.4C671.86 81.68 679.46 81.9 682 82" stroke="#21918c" stroke-width="1.7" fill="none" stroke-linejoin="round"/><path d="M499.4 45.1L501.6 49.5L497.2 49.5Z" fill="#21918c"/><path d="M514.62 49.1L516.82 53.5L512.42 53.5Z" fill="#21918c"/><path d="M529.83 53.1L532.03 57.5L527.63 57.5Z" fill="#21918c"/><path d="M545.05 56.9L547.25 61.3L542.85 61.3Z" fill="#21918c"/><path d="M560.27 60.4L562.47 64.8L558.07 64.8Z" fill="#21918c"/><path d="M575.48 64L577.68 68.4L573.28 68.4Z" fill="#21918c"/><path d="M590.7 67.3L592.9 71.7L588.5 71.7Z" fill="#21918c"/><path d="M605.92 71L608.12 75.4L603.72 75.4Z" fill="#21918c"/><path d="M621.13 73.8L623.33 78.2L618.93 78.2Z" fill="#21918c"/><path d="M636.35 76.3L638.55 80.7L634.15 80.7Z" fill="#21918c"/><path d="M651.57 78.1L653.77 82.5L649.37 82.5Z" fill="#21918c"/><path d="M666.78 79.2L668.98 83.6L664.58 83.6Z" fill="#21918c"/><path d="M682 79.8L684.2 84.2L679.8 84.2Z" fill="#21918c"/><path d="M499.4 27.8C501.94 27.42 509.54 26.17 514.62 25.5C519.69 24.83 524.76 24.25 529.83 23.8C534.91 23.35 539.98 23.07 545.05 22.8C550.12 22.53 555.19 22.35 560.27 22.2C565.34 22.05 570.41 21.8 575.48 21.9C580.56 22 585.63 22.35 590.7 22.8C595.77 23.25 600.84 23.92 605.92 24.6C610.99 25.28 616.06 26.03 621.13 26.9C626.21 27.77 631.28 28.65 636.35 29.8C641.42 30.95 646.49 32.55 651.57 33.8C656.64 35.05 661.71 36.1 666.78 37.3C671.86 38.5 679.46 40.38 682 41" stroke="#5ec962" stroke-width="1.7" fill="none" stroke-linejoin="round"/><path d="M499.4 25.3L501.4 27.8L499.4 30.3L497.4 27.8Z" fill="#5ec962"/><path d="M514.62 23L516.62 25.5L514.62 28L512.62 25.5Z" fill="#5ec962"/><path d="M529.83 21.3L531.83 23.8L529.83 26.3L527.83 23.8Z" fill="#5ec962"/><path d="M545.05 20.3L547.05 22.8L545.05 25.3L543.05 22.8Z" fill="#5ec962"/><path d="M560.27 19.7L562.27 22.2L560.27 24.7L558.27 22.2Z" fill="#5ec962"/><path d="M575.48 19.4L577.48 21.9L575.48 24.4L573.48 21.9Z" fill="#5ec962"/><path d="M590.7 20.3L592.7 22.8L590.7 25.3L588.7 22.8Z" fill="#5ec962"/><path d="M605.92 22.1L607.92 24.6L605.92 27.1L603.92 24.6Z" fill="#5ec962"/><path d="M621.13 24.4L623.13 26.9L621.13 29.4L619.13 26.9Z" fill="#5ec962"/><path d="M636.35 27.3L638.35 29.8L636.35 32.3L634.35 29.8Z" fill="#5ec962"/><path d="M651.57 31.3L653.57 33.8L651.57 36.3L649.57 33.8Z" fill="#5ec962"/><path d="M666.78 34.8L668.78 37.3L666.78 39.8L664.78 37.3Z" fill="#5ec962"/><path d="M682 38.5L684 41L682 43.5L680 41Z" fill="#5ec962"/><path d="M499.4 24.4C501.94 24.13 509.54 23.23 514.62 22.8C519.69 22.37 524.76 22.02 529.83 21.8C534.91 21.58 539.98 21.55 545.05 21.5C550.12 21.45 555.19 21.32 560.27 21.5C565.34 21.68 570.41 22.12 575.48 22.6C580.56 23.08 585.63 23.8 590.7 24.4C595.77 25 600.84 25.52 605.92 26.2C610.99 26.88 616.06 27.77 621.13 28.5C626.21 29.23 631.28 30.25 636.35 30.6C641.42 30.95 646.49 30.95 651.57 30.6C656.64 30.25 661.71 29.3 666.78 28.5C671.86 27.7 679.46 26.25 682 25.8" stroke="#fde725" stroke-width="1.7" fill="none" stroke-linejoin="round"/><path d="M499.4 26.6L501.6 22.2L497.2 22.2Z" fill="#fde725"/><path d="M514.62 25L516.82 20.6L512.42 20.6Z" fill="#fde725"/><path d="M529.83 24L532.03 19.6L527.63 19.6Z" fill="#fde725"/><path d="M545.05 23.7L547.25 19.3L542.85 19.3Z" fill="#fde725"/><path d="M560.27 23.7L562.47 19.3L558.07 19.3Z" fill="#fde725"/><path d="M575.48 24.8L577.68 20.4L573.28 20.4Z" fill="#fde725"/><path d="M590.7 26.6L592.9 22.2L588.5 22.2Z" fill="#fde725"/><path d="M605.92 28.4L608.12 24L603.72 24Z" fill="#fde725"/><path d="M621.13 30.7L623.33 26.3L618.93 26.3Z" fill="#fde725"/><path d="M636.35 32.8L638.55 28.4L634.15 28.4Z" fill="#fde725"/><path d="M651.57 32.8L653.77 28.4L649.37 28.4Z" fill="#fde725"/><path d="M666.78 30.7L668.98 26.3L664.58 26.3Z" fill="#fde725"/><path d="M682 28L684.2 23.6L679.8 23.6Z" fill="#fde725"/></g>
<path d="M499.4 37.95H682" stroke="#000" stroke-width="1.35" stroke-dasharray="1.35 2.221" stroke-dashoffset="0.45" fill="none"/>
<rect x="502.5" y="71.6" width="57.7" height="46" rx="1.5" fill="#fff" fill-opacity="0.8" stroke="#ccc" stroke-opacity="0.8" stroke-width="0.6"/>
<path d="M503.8 76H518.5" stroke="#440154" stroke-width="1.7"/>
<circle cx="511.2" cy="76" r="2" fill="#440154"/>
<text x="522.9" y="78.5" font-size="6.4" text-anchor="start" textLength="26.6" lengthAdjust="spacingAndGlyphs">Active low</text>
<path d="M503.8 84.95H518.5" stroke="#3b528b" stroke-width="1.7"/>
<rect x="509.3" y="83.05" width="3.8" height="3.8" fill="#3b528b"/>
<text x="522.9" y="87.45" font-size="6.4" text-anchor="start" textLength="35.2" lengthAdjust="spacingAndGlyphs">Active middle</text>
<path d="M503.8 93.9H518.5" stroke="#21918c" stroke-width="1.7"/>
<path d="M511.2 91.7L513.4 96.1L509 96.1Z" fill="#21918c"/>
<text x="522.9" y="96.4" font-size="6.4" text-anchor="start" textLength="28.8" lengthAdjust="spacingAndGlyphs">Active high</text>
<path d="M503.8 102.85H518.5" stroke="#5ec962" stroke-width="1.7"/>
<path d="M511.2 100.35L513.2 102.85L511.2 105.35L509.2 102.85Z" fill="#5ec962"/>
<text x="522.9" y="105.35" font-size="6.4" text-anchor="start" textLength="28.9" lengthAdjust="spacingAndGlyphs">Retired low</text>
<path d="M503.8 111.8H518.5" stroke="#fde725" stroke-width="1.7"/>
<path d="M511.2 114L513.4 109.6L509 109.6Z" fill="#fde725"/>
<text x="522.9" y="114.3" font-size="6.4" text-anchor="start" textLength="31.2" lengthAdjust="spacingAndGlyphs">Retired high</text>
<rect x="499.4" y="0.2" width="182.6" height="120.8" fill="none" stroke="#000" stroke-opacity="0.55" stroke-width="0.65"/>
<path d="M499.4 121v2.0M529.83 121v2.0M560.27 121v2.0M590.7 121v2.0M621.13 121v2.0M651.57 121v2.0M682 121v2.0M499.4 113.45h-2.0M499.4 98.35h-2.0M499.4 83.25h-2.0M499.4 68.15h-2.0M499.4 53.05h-2.0M499.4 37.95h-2.0M499.4 22.85h-2.0M499.4 7.75h-2.0" stroke="#000" stroke-opacity="0.55" stroke-width="0.65"/>
<text x="496.6" y="116.65" font-size="7.5" text-anchor="end" textLength="13.7" lengthAdjust="spacingAndGlyphs">0.990</text>
<text x="496.6" y="101.55" font-size="7.5" text-anchor="end" textLength="13.7" lengthAdjust="spacingAndGlyphs">0.992</text>
<text x="496.6" y="86.45" font-size="7.5" text-anchor="end" textLength="13.7" lengthAdjust="spacingAndGlyphs">0.994</text>
<text x="496.6" y="71.35" font-size="7.5" text-anchor="end" textLength="13.7" lengthAdjust="spacingAndGlyphs">0.996</text>
<text x="496.6" y="56.25" font-size="7.5" text-anchor="end" textLength="13.7" lengthAdjust="spacingAndGlyphs">0.998</text>
<text x="496.6" y="41.15" font-size="7.5" text-anchor="end" textLength="13.7" lengthAdjust="spacingAndGlyphs">1.000</text>
<text x="496.6" y="26.05" font-size="7.5" text-anchor="end" textLength="13.7" lengthAdjust="spacingAndGlyphs">1.002</text>
<text x="496.6" y="10.95" font-size="7.5" text-anchor="end" textLength="13.7" lengthAdjust="spacingAndGlyphs">1.004</text>
<text x="483.7" y="128.4" font-size="7.5" text-anchor="start" textLength="17" lengthAdjust="spacingAndGlyphs">Const.</text>
<text x="503.7" y="128.4" font-size="7.5" text-anchor="start" textLength="10.9" lengthAdjust="spacingAndGlyphs">Em.</text>
<text x="529.83" y="128.4" font-size="7.5" text-anchor="middle" textLength="6" lengthAdjust="spacingAndGlyphs">10</text>
<text x="560.27" y="128.4" font-size="7.5" text-anchor="middle" textLength="6" lengthAdjust="spacingAndGlyphs">20</text>
<text x="590.7" y="128.4" font-size="7.5" text-anchor="middle" textLength="6" lengthAdjust="spacingAndGlyphs">30</text>
<text x="621.13" y="128.4" font-size="7.5" text-anchor="middle" textLength="6" lengthAdjust="spacingAndGlyphs">40</text>
<text x="651.57" y="128.4" font-size="7.5" text-anchor="middle" textLength="6" lengthAdjust="spacingAndGlyphs">50</text>
<text x="682" y="128.4" font-size="7.5" text-anchor="middle" textLength="6" lengthAdjust="spacingAndGlyphs">60</text>
<text x="590.7" y="136.2" font-size="7.4" text-anchor="middle" textLength="72.3" lengthAdjust="spacingAndGlyphs">Policy Stringency (in %)</text>
<text transform="translate(480.2 60.3) rotate(-90)" x="0" y="0" font-size="7.4" text-anchor="middle" textLength="43.4" lengthAdjust="spacingAndGlyphs">Welfare (in %)</text>
<text transform="translate(549.6 165.1) scale(1.12 1)" x="0" y="0" font-size="18.8" font-style="italic">η</text>
<path d="M566.3 158.5h12.9M566.3 161.7h12.9" stroke="#1a1a1a" stroke-width="1.0"/>
<text x="609.8" y="164.8" font-size="19.5" text-anchor="end" textLength="24.0" lengthAdjust="spacingAndGlyphs">2.5</text>
<clipPath id="clip25_186"><rect x="25.5" y="186.6" width="182.1" height="120.8"/></clipPath>
<path d="M55.85 186.6V307.4M86.2 186.6V307.4M116.55 186.6V307.4M146.9 186.6V307.4M177.25 186.6V307.4" stroke="#000" stroke-opacity="0.14" stroke-width="0.7" fill="none"/>
<path d="M25.5 299.85H207.6M25.5 284.75H207.6M25.5 269.65H207.6M25.5 254.55H207.6M25.5 239.45H207.6M25.5 224.35H207.6M25.5 209.25H207.6M25.5 194.15H207.6" stroke="#000" stroke-opacity="0.14" stroke-width="0.7" fill="none"/>
<g clip-path="url(#clip25_186)"><path d="M25.5 226.2C28.03 226.5 35.62 227.42 40.67 228C45.73 228.58 50.79 229.15 55.85 229.7C60.91 230.25 65.97 230.7 71.03 231.3C76.08 231.9 81.14 232.58 86.2 233.3C91.26 234.02 96.32 234.8 101.38 235.6C106.43 236.4 111.49 237.22 116.55 238.1C121.61 238.98 126.67 239.95 131.73 240.9C136.78 241.85 141.84 242.78 146.9 243.8C151.96 244.82 157.02 245.92 162.07 247C167.13 248.08 172.19 249.12 177.25 250.3C182.31 251.48 187.37 252.83 192.42 254.1C197.48 255.37 205.07 257.27 207.6 257.9" stroke="#440154" stroke-width="1.7" fill="none" stroke-linejoin="round"/><circle cx="25.5" cy="226.2" r="2" fill="#440154"/><circle cx="40.67" cy="228" r="2" fill="#440154"/><circle cx="55.85" cy="229.7" r="2" fill="#440154"/><circle cx="71.03" cy="231.3" r="2" fill="#440154"/><circle cx="86.2" cy="233.3" r="2" fill="#440154"/><circle cx="101.38" cy="235.6" r="2" fill="#440154"/><circle cx="116.55" cy="238.1" r="2" fill="#440154"/><circle cx="131.73" cy="240.9" r="2" fill="#440154"/><circle cx="146.9" cy="243.8" r="2" fill="#440154"/><circle cx="162.07" cy="247" r="2" fill="#440154"/><circle cx="177.25" cy="250.3" r="2" fill="#440154"/><circle cx="192.42" cy="254.1" r="2" fill="#440154"/><circle cx="207.6" cy="257.9" r="2" fill="#440154"/><path d="M25.5 230.2C28.03 230.68 35.62 232.13 40.67 233.1C45.73 234.07 50.79 235.07 55.85 236C60.91 236.93 65.97 237.8 71.03 238.7C76.08 239.6 81.14 240.43 86.2 241.4C91.26 242.37 96.32 243.5 101.38 244.5C106.43 245.5 111.49 246.4 116.55 247.4C121.61 248.4 126.67 249.53 131.73 250.5C136.78 251.47 141.84 252.3 146.9 253.2C151.96 254.1 157.02 254.97 162.07 255.9C167.13 256.83 172.19 257.8 177.25 258.8C182.31 259.8 187.37 260.82 192.42 261.9C197.48 262.98 205.07 264.73 207.6 265.3" stroke="#3b528b" stroke-width="1.7" fill="none" stroke-linejoin="round"/><rect x="23.6" y="228.3" width="3.8" height="3.8" fill="#3b528b"/><rect x="38.77" y="231.2" width="3.8" height="3.8" fill="#3b528b"/><rect x="53.95" y="234.1" width="3.8" height="3.8" fill="#3b528b"/><rect x="69.12" y="236.8" width="3.8" height="3.8" fill="#3b528b"/><rect x="84.3" y="239.5" width="3.8" height="3.8" fill="#3b528b"/><rect x="99.47" y="242.6" width="3.8" height="3.8" fill="#3b528b"/><rect x="114.65" y="245.5" width="3.8" height="3.8" fill="#3b528b"/><rect x="129.83" y="248.6" width="3.8" height="3.8" fill="#3b528b"/><rect x="145" y="251.3" width="3.8" height="3.8" fill="#3b528b"/><rect x="160.17" y="254" width="3.8" height="3.8" fill="#3b528b"/><rect x="175.35" y="256.9" width="3.8" height="3.8" fill="#3b528b"/><rect x="190.52" y="260" width="3.8" height="3.8" fill="#3b528b"/><rect x="205.7" y="263.4" width="3.8" height="3.8" fill="#3b528b"/><path d="M25.5 232.7C28.03 233.32 35.62 235.18 40.67 236.4C45.73 237.62 50.79 238.83 55.85 240C60.91 241.17 65.97 242.32 71.03 243.4C76.08 244.48 81.14 245.45 86.2 246.5C91.26 247.55 96.32 248.65 101.38 249.7C106.43 250.75 111.49 251.88 116.55 252.8C121.61 253.72 126.67 254.4 131.73 255.2C136.78 256 141.84 256.88 146.9 257.6C151.96 258.32 157.02 258.97 162.07 259.5C167.13 260.03 172.19 260.4 177.25 260.8C182.31 261.2 187.37 261.53 192.42 261.9C197.48 262.27 205.07 262.82 207.6 263" stroke="#21918c" stroke-width="1.7" fill="none" stroke-linejoin="round"/><path d="M25.5 230.5L27.7 234.9L23.3 234.9Z" fill="#21918c"/><path d="M40.67 234.2L42.88 238.6L38.47 238.6Z" fill="#21918c"/><path d="M55.85 237.8L58.05 242.2L53.65 242.2Z" fill="#21918c"/><path d="M71.03 241.2L73.23 245.6L68.83 245.6Z" fill="#21918c"/><path d="M86.2 244.3L88.4 248.7L84 248.7Z" fill="#21918c"/><path d="M101.38 247.5L103.58 251.9L99.17 251.9Z" fill="#21918c"/><path d="M116.55 250.6L118.75 255L114.35 255Z" fill="#21918c"/><path d="M131.73 253L133.93 257.4L129.53 257.4Z" fill="#21918c"/><path d="M146.9 255.4L149.1 259.8L144.7 259.8Z" fill="#21918c"/><path d="M162.07 257.3L164.27 261.7L159.88 261.7Z" fill="#21918c"/><path d="M177.25 258.6L179.45 263L175.05 263Z" fill="#21918c"/><path d="M192.42 259.7L194.62 264.1L190.22 264.1Z" fill="#21918c"/><path d="M207.6 260.8L209.8 265.2L205.4 265.2Z" fill="#21918c"/><path d="M25.5 215.5C28.03 215.18 35.62 214.22 40.67 213.6C45.73 212.98 50.79 212.25 55.85 211.8C60.91 211.35 65.97 211.12 71.03 210.9C76.08 210.68 81.14 210.45 86.2 210.5C91.26 210.55 96.32 210.87 101.38 211.2C106.43 211.53 111.49 212.05 116.55 212.5C121.61 212.95 126.67 213.33 131.73 213.9C136.78 214.47 141.84 215.17 146.9 215.9C151.96 216.63 157.02 217.45 162.07 218.3C167.13 219.15 172.19 220.07 177.25 221C182.31 221.93 187.37 222.63 192.42 223.9C197.48 225.17 205.07 227.82 207.6 228.6" stroke="#5ec962" stroke-width="1.7" fill="none" stroke-linejoin="round"/><path d="M25.5 213L27.5 215.5L25.5 218L23.5 215.5Z" fill="#5ec962"/><path d="M40.67 211.1L42.67 213.6L40.67 216.1L38.67 213.6Z" fill="#5ec962"/><path d="M55.85 209.3L57.85 211.8L55.85 214.3L53.85 211.8Z" fill="#5ec962"/><path d="M71.03 208.4L73.03 210.9L71.03 213.4L69.03 210.9Z" fill="#5ec962"/><path d="M86.2 208L88.2 210.5L86.2 213L84.2 210.5Z" fill="#5ec962"/><path d="M101.38 208.7L103.38 211.2L101.38 213.7L99.38 211.2Z" fill="#5ec962"/><path d="M116.55 210L118.55 212.5L116.55 215L114.55 212.5Z" fill="#5ec962"/><path d="M131.73 211.4L133.73 213.9L131.73 216.4L129.73 213.9Z" fill="#5ec962"/><path d="M146.9 213.4L148.9 215.9L146.9 218.4L144.9 215.9Z" fill="#5ec962"/><path d="M162.07 215.8L164.07 218.3L162.07 220.8L160.07 218.3Z" fill="#5ec962"/><path d="M177.25 218.5L179.25 221L177.25 223.5L175.25 221Z" fill="#5ec962"/><path d="M192.42 221.4L194.42 223.9L192.42 226.4L190.42 223.9Z" fill="#5ec962"/><path d="M207.6 226.1L209.6 228.6L207.6 231.1L205.6 228.6Z" fill="#5ec962"/><path d="M25.5 212.1C28.03 211.9 35.62 211.28 40.67 210.9C45.73 210.52 50.79 210.05 55.85 209.8C60.91 209.55 65.97 209.47 71.03 209.4C76.08 209.33 81.14 209.33 86.2 209.4C91.26 209.47 96.32 209.53 101.38 209.8C106.43 210.07 111.49 210.7 116.55 211C121.61 211.3 126.67 211.47 131.73 211.6C136.78 211.73 141.84 211.87 146.9 211.8C151.96 211.73 157.02 211.63 162.07 211.2C167.13 210.77 172.19 209.88 177.25 209.2C182.31 208.52 187.37 207.48 192.42 207.1C197.48 206.72 205.07 206.93 207.6 206.9" stroke="#fde725" stroke-width="1.7" fill="none" stroke-linejoin="round"/><path d="M25.5 214.3L27.7 209.9L23.3 209.9Z" fill="#fde725"/><path d="M40.67 213.1L42.88 208.7L38.47 208.7Z" fill="#fde725"/><path d="M55.85 212L58.05 207.6L53.65 207.6Z" fill="#fde725"/><path d="M71.03 211.6L73.23 207.2L68.83 207.2Z" fill="#fde725"/><path d="M86.2 211.6L88.4 207.2L84 207.2Z" fill="#fde725"/><path d="M101.38 212L103.58 207.6L99.17 207.6Z" fill="#fde725"/><path d="M116.55 213.2L118.75 208.8L114.35 208.8Z" fill="#fde725"/><path d="M131.73 213.8L133.93 209.4L129.53 209.4Z" fill="#fde725"/><path d="M146.9 214L149.1 209.6L144.7 209.6Z" fill="#fde725"/><path d="M162.07 213.4L164.27 209L159.88 209Z" fill="#fde725"/><path d="M177.25 211.4L179.45 207L175.05 207Z" fill="#fde725"/><path d="M192.42 209.3L194.62 204.9L190.22 204.9Z" fill="#fde725"/><path d="M207.6 209.1L209.8 204.7L205.4 204.7Z" fill="#fde725"/></g>
<path d="M25.5 224.35H207.6" stroke="#000" stroke-width="1.35" stroke-dasharray="1.35 2.221" stroke-dashoffset="0.45" fill="none"/>
<rect x="28.6" y="258" width="57.7" height="46" rx="1.5" fill="#fff" fill-opacity="0.8" stroke="#ccc" stroke-opacity="0.8" stroke-width="0.6"/>
<path d="M29.9 262.4H44.6" stroke="#440154" stroke-width="1.7"/>
<circle cx="37.3" cy="262.4" r="2" fill="#440154"/>
<text x="49" y="264.9" font-size="6.4" text-anchor="start" textLength="26.6" lengthAdjust="spacingAndGlyphs">Active low</text>
<path d="M29.9 271.35H44.6" stroke="#3b528b" stroke-width="1.7"/>
<rect x="35.4" y="269.45" width="3.8" height="3.8" fill="#3b528b"/>
<text x="49" y="273.85" font-size="6.4" text-anchor="start" textLength="35.2" lengthAdjust="spacingAndGlyphs">Active middle</text>
<path d="M29.9 280.3H44.6" stroke="#21918c" stroke-width="1.7"/>
<path d="M37.3 278.1L39.5 282.5L35.1 282.5Z" fill="#21918c"/>
<text x="49" y="282.8" font-size="6.4" text-anchor="start" textLength="28.8" lengthAdjust="spacingAndGlyphs">Active high</text>
<path d="M29.9 289.25H44.6" stroke="#5ec962" stroke-width="1.7"/>
<path d="M37.3 286.75L39.3 289.25L37.3 291.75L35.3 289.25Z" fill="#5ec962"/>
<text x="49" y="291.75" font-size="6.4" text-anchor="start" textLength="28.9" lengthAdjust="spacingAndGlyphs">Retired low</text>
<path d="M29.9 298.2H44.6" stroke="#fde725" stroke-width="1.7"/>
<path d="M37.3 300.4L39.5 296L35.1 296Z" fill="#fde725"/>
<text x="49" y="300.7" font-size="6.4" text-anchor="start" textLength="31.2" lengthAdjust="spacingAndGlyphs">Retired high</text>
<rect x="25.5" y="186.6" width="182.1" height="120.8" fill="none" stroke="#000" stroke-opacity="0.55" stroke-width="0.65"/>
<path d="M25.5 307.4v2.0M55.85 307.4v2.0M86.2 307.4v2.0M116.55 307.4v2.0M146.9 307.4v2.0M177.25 307.4v2.0M207.6 307.4v2.0M25.5 299.85h-2.0M25.5 284.75h-2.0M25.5 269.65h-2.0M25.5 254.55h-2.0M25.5 239.45h-2.0M25.5 224.35h-2.0M25.5 209.25h-2.0M25.5 194.15h-2.0" stroke="#000" stroke-opacity="0.55" stroke-width="0.65"/>
<text x="22.7" y="303.05" font-size="7.5" text-anchor="end" textLength="13.7" lengthAdjust="spacingAndGlyphs">0.990</text>
<text x="22.7" y="287.95" font-size="7.5" text-anchor="end" textLength="13.7" lengthAdjust="spacingAndGlyphs">0.992</text>
<text x="22.7" y="272.85" font-size="7.5" text-anchor="end" textLength="13.7" lengthAdjust="spacingAndGlyphs">0.994</text>
<text x="22.7" y="257.75" font-size="7.5" text-anchor="end" textLength="13.7" lengthAdjust="spacingAndGlyphs">0.996</text>
<text x="22.7" y="242.65" font-size="7.5" text-anchor="end" textLength="13.7" lengthAdjust="spacingAndGlyphs">0.998</text>
<text x="22.7" y="227.55" font-size="7.5" text-anchor="end" textLength="13.7" lengthAdjust="spacingAndGlyphs">1.000</text>
<text x="22.7" y="212.45" font-size="7.5" text-anchor="end" textLength="13.7" lengthAdjust="spacingAndGlyphs">1.002</text>
<text x="22.7" y="197.35" font-size="7.5" text-anchor="end" textLength="13.7" lengthAdjust="spacingAndGlyphs">1.004</text>
<text x="9.8" y="314.8" font-size="7.5" text-anchor="start" textLength="17" lengthAdjust="spacingAndGlyphs">Const.</text>
<text x="29.8" y="314.8" font-size="7.5" text-anchor="start" textLength="10.9" lengthAdjust="spacingAndGlyphs">Em.</text>
<text x="55.85" y="314.8" font-size="7.5" text-anchor="middle" textLength="6" lengthAdjust="spacingAndGlyphs">10</text>
<text x="86.2" y="314.8" font-size="7.5" text-anchor="middle" textLength="6" lengthAdjust="spacingAndGlyphs">20</text>
<text x="116.55" y="314.8" font-size="7.5" text-anchor="middle" textLength="6" lengthAdjust="spacingAndGlyphs">30</text>
<text x="146.9" y="314.8" font-size="7.5" text-anchor="middle" textLength="6" lengthAdjust="spacingAndGlyphs">40</text>
<text x="177.25" y="314.8" font-size="7.5" text-anchor="middle" textLength="6" lengthAdjust="spacingAndGlyphs">50</text>
<text x="207.6" y="314.8" font-size="7.5" text-anchor="middle" textLength="6" lengthAdjust="spacingAndGlyphs">60</text>
<text x="116.55" y="322.6" font-size="7.4" text-anchor="middle" textLength="72.3" lengthAdjust="spacingAndGlyphs">Policy Stringency (in %)</text>
<text transform="translate(6.3 246.7) rotate(-90)" x="0" y="0" font-size="7.4" text-anchor="middle" textLength="43.4" lengthAdjust="spacingAndGlyphs">Welfare (in %)</text>
<text transform="translate(75.6 352) scale(1.12 1)" x="0" y="0" font-size="18.8" font-style="italic">η</text>
<path d="M92.3 345.4h12.9M92.3 348.6h12.9" stroke="#1a1a1a" stroke-width="1.0"/>
<text x="135.8" y="351.7" font-size="19.5" text-anchor="end" textLength="24.0" lengthAdjust="spacingAndGlyphs">3.0</text>
<clipPath id="clip262_186"><rect x="262.5" y="186.6" width="182.3" height="120.8"/></clipPath>
<path d="M292.88 186.6V307.4M323.27 186.6V307.4M353.65 186.6V307.4M384.03 186.6V307.4M414.42 186.6V307.4" stroke="#000" stroke-opacity="0.14" stroke-width="0.7" fill="none"/>
<path d="M262.5 299.85H444.8M262.5 284.75H444.8M262.5 269.65H444.8M262.5 254.55H444.8M262.5 239.45H444.8M262.5 224.35H444.8M262.5 209.25H444.8M262.5 194.15H444.8" stroke="#000" stroke-opacity="0.14" stroke-width="0.7" fill="none"/>
<g clip-path="url(#clip262_186)"><path d="M262.5 226.2C265.03 226.5 272.63 227.43 277.69 228C282.76 228.57 287.82 229.08 292.88 229.6C297.95 230.12 303.01 230.55 308.07 231.1C313.14 231.65 318.2 232.23 323.27 232.9C328.33 233.57 333.39 234.35 338.46 235.1C343.52 235.85 348.59 236.57 353.65 237.4C358.71 238.23 363.78 239.18 368.84 240.1C373.91 241.02 378.97 241.93 384.03 242.9C389.1 243.87 394.16 244.85 399.23 245.9C404.29 246.95 409.35 248.05 414.42 249.2C419.48 250.35 424.54 251.57 429.61 252.8C434.67 254.03 442.27 255.97 444.8 256.6" stroke="#440154" stroke-width="1.7" fill="none" stroke-linejoin="round"/><circle cx="262.5" cy="226.2" r="2" fill="#440154"/><circle cx="277.69" cy="228" r="2" fill="#440154"/><circle cx="292.88" cy="229.6" r="2" fill="#440154"/><circle cx="308.07" cy="231.1" r="2" fill="#440154"/><circle cx="323.27" cy="232.9" r="2" fill="#440154"/><circle cx="338.46" cy="235.1" r="2" fill="#440154"/><circle cx="353.65" cy="237.4" r="2" fill="#440154"/><circle cx="368.84" cy="240.1" r="2" fill="#440154"/><circle cx="384.03" cy="242.9" r="2" fill="#440154"/><circle cx="399.23" cy="245.9" r="2" fill="#440154"/><circle cx="414.42" cy="249.2" r="2" fill="#440154"/><circle cx="429.61" cy="252.8" r="2" fill="#440154"/><circle cx="444.8" cy="256.6" r="2" fill="#440154"/><path d="M262.5 229.7C265.03 230.2 272.63 231.8 277.69 232.7C282.76 233.6 287.82 234.28 292.88 235.1C297.95 235.92 303.01 236.77 308.07 237.6C313.14 238.43 318.2 239.25 323.27 240.1C328.33 240.95 333.39 241.82 338.46 242.7C343.52 243.58 348.59 244.48 353.65 245.4C358.71 246.32 363.78 247.28 368.84 248.2C373.91 249.12 378.97 250 384.03 250.9C389.1 251.8 394.16 252.73 399.23 253.6C404.29 254.47 409.35 255.17 414.42 256.1C419.48 257.03 424.54 258.05 429.61 259.2C434.67 260.35 442.27 262.37 444.8 263" stroke="#3b528b" stroke-width="1.7" fill="none" stroke-linejoin="round"/><rect x="260.6" y="227.8" width="3.8" height="3.8" fill="#3b528b"/><rect x="275.79" y="230.8" width="3.8" height="3.8" fill="#3b528b"/><rect x="290.98" y="233.2" width="3.8" height="3.8" fill="#3b528b"/><rect x="306.18" y="235.7" width="3.8" height="3.8" fill="#3b528b"/><rect x="321.37" y="238.2" width="3.8" height="3.8" fill="#3b528b"/><rect x="336.56" y="240.8" width="3.8" height="3.8" fill="#3b528b"/><rect x="351.75" y="243.5" width="3.8" height="3.8" fill="#3b528b"/><rect x="366.94" y="246.3" width="3.8" height="3.8" fill="#3b528b"/><rect x="382.13" y="249" width="3.8" height="3.8" fill="#3b528b"/><rect x="397.33" y="251.7" width="3.8" height="3.8" fill="#3b528b"/><rect x="412.52" y="254.2" width="3.8" height="3.8" fill="#3b528b"/><rect x="427.71" y="257.3" width="3.8" height="3.8" fill="#3b528b"/><rect x="442.9" y="261.1" width="3.8" height="3.8" fill="#3b528b"/><path d="M262.5 232C265.03 232.55 272.63 234.18 277.69 235.3C282.76 236.42 287.82 237.63 292.88 238.7C297.95 239.77 303.01 240.73 308.07 241.7C313.14 242.67 318.2 243.58 323.27 244.5C328.33 245.42 333.39 246.32 338.46 247.2C343.52 248.08 348.59 248.98 353.65 249.8C358.71 250.62 363.78 251.42 368.84 252.1C373.91 252.78 378.97 253.43 384.03 253.9C389.1 254.37 394.16 254.53 399.23 254.9C404.29 255.27 409.35 255.67 414.42 256.1C419.48 256.53 424.54 257.05 429.61 257.5C434.67 257.95 442.27 258.58 444.8 258.8" stroke="#21918c" stroke-width="1.7" fill="none" stroke-linejoin="round"/><path d="M262.5 229.8L264.7 234.2L260.3 234.2Z" fill="#21918c"/><path d="M277.69 233.1L279.89 237.5L275.49 237.5Z" fill="#21918c"/><path d="M292.88 236.5L295.08 240.9L290.68 240.9Z" fill="#21918c"/><path d="M308.07 239.5L310.27 243.9L305.88 243.9Z" fill="#21918c"/><path d="M323.27 242.3L325.47 246.7L321.07 246.7Z" fill="#21918c"/><path d="M338.46 245L340.66 249.4L336.26 249.4Z" fill="#21918c"/><path d="M353.65 247.6L355.85 252L351.45 252Z" fill="#21918c"/><path d="M368.84 249.9L371.04 254.3L366.64 254.3Z" fill="#21918c"/><path d="M384.03 251.7L386.23 256.1L381.83 256.1Z" fill="#21918c"/><path d="M399.23 252.7L401.43 257.1L397.03 257.1Z" fill="#21918c"/><path d="M414.42 253.9L416.62 258.3L412.22 258.3Z" fill="#21918c"/><path d="M429.61 255.3L431.81 259.7L427.41 259.7Z" fill="#21918c"/><path d="M444.8 256.6L447 261L442.6 261Z" fill="#21918c"/><path d="M262.5 215.9C265.03 215.67 272.63 214.9 277.69 214.5C282.76 214.1 287.82 213.78 292.88 213.5C297.95 213.22 303.01 212.92 308.07 212.8C313.14 212.68 318.2 212.73 323.27 212.8C328.33 212.87 333.39 213.02 338.46 213.2C343.52 213.38 348.59 213.57 353.65 213.9C358.71 214.23 363.78 214.72 368.84 215.2C373.91 215.68 378.97 216.2 384.03 216.8C389.1 217.4 394.16 218.07 399.23 218.8C404.29 219.53 409.35 220.17 414.42 221.2C419.48 222.23 424.54 223.43 429.61 225C434.67 226.57 442.27 229.67 444.8 230.6" stroke="#5ec962" stroke-width="1.7" fill="none" stroke-linejoin="round"/><path d="M262.5 213.4L264.5 215.9L262.5 218.4L260.5 215.9Z" fill="#5ec962"/><path d="M277.69 212L279.69 214.5L277.69 217L275.69 214.5Z" fill="#5ec962"/><path d="M292.88 211L294.88 213.5L292.88 216L290.88 213.5Z" fill="#5ec962"/><path d="M308.07 210.3L310.07 212.8L308.07 215.3L306.07 212.8Z" fill="#5ec962"/><path d="M323.27 210.3L325.27 212.8L323.27 215.3L321.27 212.8Z" fill="#5ec962"/><path d="M338.46 210.7L340.46 213.2L338.46 215.7L336.46 213.2Z" fill="#5ec962"/><path d="M353.65 211.4L355.65 213.9L353.65 216.4L351.65 213.9Z" fill="#5ec962"/><path d="M368.84 212.7L370.84 215.2L368.84 217.7L366.84 215.2Z" fill="#5ec962"/><path d="M384.03 214.3L386.03 216.8L384.03 219.3L382.03 216.8Z" fill="#5ec962"/><path d="M399.23 216.3L401.23 218.8L399.23 221.3L397.23 218.8Z" fill="#5ec962"/><path d="M414.42 218.7L416.42 221.2L414.42 223.7L412.42 221.2Z" fill="#5ec962"/><path d="M429.61 222.5L431.61 225L429.61 227.5L427.61 225Z" fill="#5ec962"/><path d="M444.8 228.1L446.8 230.6L444.8 233.1L442.8 230.6Z" fill="#5ec962"/><path d="M262.5 213.2C265.03 212.97 272.63 212.13 277.69 211.8C282.76 211.47 287.82 211.37 292.88 211.2C297.95 211.03 303.01 210.97 308.07 210.8C313.14 210.63 318.2 210.32 323.27 210.2C328.33 210.08 333.39 210.18 338.46 210.1C343.52 210.02 348.59 209.85 353.65 209.7C358.71 209.55 363.78 209.47 368.84 209.2C373.91 208.93 378.97 208.67 384.03 208.1C389.1 207.53 394.16 206.52 399.23 205.8C404.29 205.08 409.35 204.32 414.42 203.8C419.48 203.28 426.39 202.68 429.61 202.7C432.82 202.72 432.24 203.88 433.71 203.9C435.18 203.92 437.03 203.22 438.42 202.8C439.81 202.38 441 202.05 442.07 201.4C443.13 200.75 444.34 199.32 444.8 198.9" stroke="#fde725" stroke-width="1.7" fill="none" stroke-linejoin="round"/><path d="M262.5 215.4L264.7 211L260.3 211Z" fill="#fde725"/><path d="M277.69 214L279.89 209.6L275.49 209.6Z" fill="#fde725"/><path d="M292.88 213.4L295.08 209L290.68 209Z" fill="#fde725"/><path d="M308.07 213L310.27 208.6L305.88 208.6Z" fill="#fde725"/><path d="M323.27 212.4L325.47 208L321.07 208Z" fill="#fde725"/><path d="M338.46 212.3L340.66 207.9L336.26 207.9Z" fill="#fde725"/><path d="M353.65 211.9L355.85 207.5L351.45 207.5Z" fill="#fde725"/><path d="M368.84 211.4L371.04 207L366.64 207Z" fill="#fde725"/><path d="M384.03 210.3L386.23 205.9L381.83 205.9Z" fill="#fde725"/><path d="M399.23 208L401.43 203.6L397.03 203.6Z" fill="#fde725"/><path d="M414.42 206L416.62 201.6L412.22 201.6Z" fill="#fde725"/><path d="M429.61 204.9L431.81 200.5L427.41 200.5Z" fill="#fde725"/><path d="M444.8 201.1L447 196.7L442.6 196.7Z" fill="#fde725"/></g>
<path d="M262.5 224.35H444.8" stroke="#000" stroke-width="1.35" stroke-dasharray="1.35 2.221" stroke-dashoffset="0.45" fill="none"/>
<rect x="265.6" y="258" width="57.7" height="46" rx="1.5" fill="#fff" fill-opacity="0.8" stroke="#ccc" stroke-opacity="0.8" stroke-width="0.6"/>
<path d="M266.9 262.4H281.6" stroke="#440154" stroke-width="1.7"/>
<circle cx="274.3" cy="262.4" r="2" fill="#440154"/>
<text x="286" y="264.9" font-size="6.4" text-anchor="start" textLength="26.6" lengthAdjust="spacingAndGlyphs">Active low</text>
<path d="M266.9 271.35H281.6" stroke="#3b528b" stroke-width="1.7"/>
<rect x="272.4" y="269.45" width="3.8" height="3.8" fill="#3b528b"/>
<text x="286" y="273.85" font-size="6.4" text-anchor="start" textLength="35.2" lengthAdjust="spacingAndGlyphs">Active middle</text>
<path d="M266.9 280.3H281.6" stroke="#21918c" stroke-width="1.7"/>
<path d="M274.3 278.1L276.5 282.5L272.1 282.5Z" fill="#21918c"/>
<text x="286" y="282.8" font-size="6.4" text-anchor="start" textLength="28.8" lengthAdjust="spacingAndGlyphs">Active high</text>
<path d="M266.9 289.25H281.6" stroke="#5ec962" stroke-width="1.7"/>
<path d="M274.3 286.75L276.3 289.25L274.3 291.75L272.3 289.25Z" fill="#5ec962"/>
<text x="286" y="291.75" font-size="6.4" text-anchor="start" textLength="28.9" lengthAdjust="spacingAndGlyphs">Retired low</text>
<path d="M266.9 298.2H281.6" stroke="#fde725" stroke-width="1.7"/>
<path d="M274.3 300.4L276.5 296L272.1 296Z" fill="#fde725"/>
<text x="286" y="300.7" font-size="6.4" text-anchor="start" textLength="31.2" lengthAdjust="spacingAndGlyphs">Retired high</text>
<rect x="262.5" y="186.6" width="182.3" height="120.8" fill="none" stroke="#000" stroke-opacity="0.55" stroke-width="0.65"/>
<path d="M262.5 307.4v2.0M292.88 307.4v2.0M323.27 307.4v2.0M353.65 307.4v2.0M384.03 307.4v2.0M414.42 307.4v2.0M444.8 307.4v2.0M262.5 299.85h-2.0M262.5 284.75h-2.0M262.5 269.65h-2.0M262.5 254.55h-2.0M262.5 239.45h-2.0M262.5 224.35h-2.0M262.5 209.25h-2.0M262.5 194.15h-2.0" stroke="#000" stroke-opacity="0.55" stroke-width="0.65"/>
<text x="259.7" y="303.05" font-size="7.5" text-anchor="end" textLength="13.7" lengthAdjust="spacingAndGlyphs">0.990</text>
<text x="259.7" y="287.95" font-size="7.5" text-anchor="end" textLength="13.7" lengthAdjust="spacingAndGlyphs">0.992</text>
<text x="259.7" y="272.85" font-size="7.5" text-anchor="end" textLength="13.7" lengthAdjust="spacingAndGlyphs">0.994</text>
<text x="259.7" y="257.75" font-size="7.5" text-anchor="end" textLength="13.7" lengthAdjust="spacingAndGlyphs">0.996</text>
<text x="259.7" y="242.65" font-size="7.5" text-anchor="end" textLength="13.7" lengthAdjust="spacingAndGlyphs">0.998</text>
<text x="259.7" y="227.55" font-size="7.5" text-anchor="end" textLength="13.7" lengthAdjust="spacingAndGlyphs">1.000</text>
<text x="259.7" y="212.45" font-size="7.5" text-anchor="end" textLength="13.7" lengthAdjust="spacingAndGlyphs">1.002</text>
<text x="259.7" y="197.35" font-size="7.5" text-anchor="end" textLength="13.7" lengthAdjust="spacingAndGlyphs">1.004</text>
<text x="246.8" y="314.8" font-size="7.5" text-anchor="start" textLength="17" lengthAdjust="spacingAndGlyphs">Const.</text>
<text x="266.8" y="314.8" font-size="7.5" text-anchor="start" textLength="10.9" lengthAdjust="spacingAndGlyphs">Em.</text>
<text x="292.88" y="314.8" font-size="7.5" text-anchor="middle" textLength="6" lengthAdjust="spacingAndGlyphs">10</text>
<text x="323.27" y="314.8" font-size="7.5" text-anchor="middle" textLength="6" lengthAdjust="spacingAndGlyphs">20</text>
<text x="353.65" y="314.8" font-size="7.5" text-anchor="middle" textLength="6" lengthAdjust="spacingAndGlyphs">30</text>
<text x="384.03" y="314.8" font-size="7.5" text-anchor="middle" textLength="6" lengthAdjust="spacingAndGlyphs">40</text>
<text x="414.42" y="314.8" font-size="7.5" text-anchor="middle" textLength="6" lengthAdjust="spacingAndGlyphs">50</text>
<text x="444.8" y="314.8" font-size="7.5" text-anchor="middle" textLength="6" lengthAdjust="spacingAndGlyphs">60</text>
<text x="353.65" y="322.6" font-size="7.4" text-anchor="middle" textLength="72.3" lengthAdjust="spacingAndGlyphs">Policy Stringency (in %)</text>
<text transform="translate(243.3 246.7) rotate(-90)" x="0" y="0" font-size="7.4" text-anchor="middle" textLength="43.4" lengthAdjust="spacingAndGlyphs">Welfare (in %)</text>
<text transform="translate(312.2 352) scale(1.12 1)" x="0" y="0" font-size="18.8" font-style="italic">η</text>
<path d="M328.9 345.4h12.9M328.9 348.6h12.9" stroke="#1a1a1a" stroke-width="1.0"/>
<text x="372.4" y="351.7" font-size="19.5" text-anchor="end" textLength="24.0" lengthAdjust="spacingAndGlyphs">3.5</text>
<clipPath id="clip503_190"><rect x="503.4" y="190.4" width="175.2" height="113.2"/></clipPath>
<path d="M532.6 190.4V303.6M561.8 190.4V303.6M591 190.4V303.6M620.2 190.4V303.6M649.4 190.4V303.6" stroke="#000" stroke-opacity="0.14" stroke-width="0.7" fill="none"/>
<path d="M503.4 296.52H678.6M503.4 282.38H678.6M503.4 268.23H678.6M503.4 254.08H678.6M503.4 239.93H678.6M503.4 225.78H678.6M503.4 211.62H678.6M503.4 197.47H678.6" stroke="#000" stroke-opacity="0.14" stroke-width="0.7" fill="none"/>
<g clip-path="url(#clip503_190)"><path d="M503.4 227.5C505.83 227.73 513.13 228.4 518 228.9C522.87 229.4 527.73 230.02 532.6 230.5C537.47 230.98 542.33 231.27 547.2 231.8C552.07 232.33 556.93 233.07 561.8 233.7C566.67 234.33 571.53 234.92 576.4 235.6C581.27 236.28 586.13 237.07 591 237.8C595.87 238.53 600.73 239.2 605.6 240C610.47 240.8 615.33 241.7 620.2 242.6C625.07 243.5 629.93 244.42 634.8 245.4C639.67 246.38 644.53 247.47 649.4 248.5C654.27 249.53 659.13 250.52 664 251.6C668.87 252.68 676.17 254.43 678.6 255" stroke="#440154" stroke-width="1.7" fill="none" stroke-linejoin="round"/><circle cx="503.4" cy="227.5" r="2" fill="#440154"/><circle cx="518" cy="228.9" r="2" fill="#440154"/><circle cx="532.6" cy="230.5" r="2" fill="#440154"/><circle cx="547.2" cy="231.8" r="2" fill="#440154"/><circle cx="561.8" cy="233.7" r="2" fill="#440154"/><circle cx="576.4" cy="235.6" r="2" fill="#440154"/><circle cx="591" cy="237.8" r="2" fill="#440154"/><circle cx="605.6" cy="240" r="2" fill="#440154"/><circle cx="620.2" cy="242.6" r="2" fill="#440154"/><circle cx="634.8" cy="245.4" r="2" fill="#440154"/><circle cx="649.4" cy="248.5" r="2" fill="#440154"/><circle cx="664" cy="251.6" r="2" fill="#440154"/><circle cx="678.6" cy="255" r="2" fill="#440154"/><path d="M503.4 230.1C505.83 230.53 513.13 231.85 518 232.7C522.87 233.55 527.73 234.4 532.6 235.2C537.47 236 542.33 236.78 547.2 237.5C552.07 238.22 556.93 238.78 561.8 239.5C566.67 240.22 571.53 241.05 576.4 241.8C581.27 242.55 586.13 243.25 591 244C595.87 244.75 600.73 245.47 605.6 246.3C610.47 247.13 615.33 248.13 620.2 249C625.07 249.87 629.93 250.67 634.8 251.5C639.67 252.33 644.53 253.08 649.4 254C654.27 254.92 659.13 255.93 664 257C668.87 258.07 676.17 259.83 678.6 260.4" stroke="#3b528b" stroke-width="1.7" fill="none" stroke-linejoin="round"/><rect x="501.5" y="228.2" width="3.8" height="3.8" fill="#3b528b"/><rect x="516.1" y="230.8" width="3.8" height="3.8" fill="#3b528b"/><rect x="530.7" y="233.3" width="3.8" height="3.8" fill="#3b528b"/><rect x="545.3" y="235.6" width="3.8" height="3.8" fill="#3b528b"/><rect x="559.9" y="237.6" width="3.8" height="3.8" fill="#3b528b"/><rect x="574.5" y="239.9" width="3.8" height="3.8" fill="#3b528b"/><rect x="589.1" y="242.1" width="3.8" height="3.8" fill="#3b528b"/><rect x="603.7" y="244.4" width="3.8" height="3.8" fill="#3b528b"/><rect x="618.3" y="247.1" width="3.8" height="3.8" fill="#3b528b"/><rect x="632.9" y="249.6" width="3.8" height="3.8" fill="#3b528b"/><rect x="647.5" y="252.1" width="3.8" height="3.8" fill="#3b528b"/><rect x="662.1" y="255.1" width="3.8" height="3.8" fill="#3b528b"/><rect x="676.7" y="258.5" width="3.8" height="3.8" fill="#3b528b"/><path d="M503.4 232.1C505.83 232.62 513.13 234.18 518 235.2C522.87 236.22 527.73 237.28 532.6 238.2C537.47 239.12 542.33 239.92 547.2 240.7C552.07 241.48 556.93 242.18 561.8 242.9C566.67 243.62 571.53 244.32 576.4 245C581.27 245.68 586.13 246.43 591 247C595.87 247.57 600.73 247.92 605.6 248.4C610.47 248.88 615.33 249.37 620.2 249.9C625.07 250.43 629.93 251.07 634.8 251.6C639.67 252.13 644.53 252.63 649.4 253.1C654.27 253.57 659.13 253.87 664 254.4C668.87 254.93 676.17 255.98 678.6 256.3" stroke="#21918c" stroke-width="1.7" fill="none" stroke-linejoin="round"/><path d="M503.4 229.9L505.6 234.3L501.2 234.3Z" fill="#21918c"/><path d="M518 233L520.2 237.4L515.8 237.4Z" fill="#21918c"/><path d="M532.6 236L534.8 240.4L530.4 240.4Z" fill="#21918c"/><path d="M547.2 238.5L549.4 242.9L545 242.9Z" fill="#21918c"/><path d="M561.8 240.7L564 245.1L559.6 245.1Z" fill="#21918c"/><path d="M576.4 242.8L578.6 247.2L574.2 247.2Z" fill="#21918c"/><path d="M591 244.8L593.2 249.2L588.8 249.2Z" fill="#21918c"/><path d="M605.6 246.2L607.8 250.6L603.4 250.6Z" fill="#21918c"/><path d="M620.2 247.7L622.4 252.1L618 252.1Z" fill="#21918c"/><path d="M634.8 249.4L637 253.8L632.6 253.8Z" fill="#21918c"/><path d="M649.4 250.9L651.6 255.3L647.2 255.3Z" fill="#21918c"/><path d="M664 252.2L666.2 256.6L661.8 256.6Z" fill="#21918c"/><path d="M678.6 254.1L680.8 258.5L676.4 258.5Z" fill="#21918c"/><path d="M503.4 218.9C505.83 218.65 513.13 217.78 518 217.4C522.87 217.02 527.73 216.83 532.6 216.6C537.47 216.37 542.33 216.1 547.2 216C552.07 215.9 556.93 215.95 561.8 216C566.67 216.05 571.53 216.13 576.4 216.3C581.27 216.47 586.13 216.72 591 217C595.87 217.28 600.73 217.62 605.6 218C610.47 218.38 615.33 218.78 620.2 219.3C625.07 219.82 629.93 220.42 634.8 221.1C639.67 221.78 644.53 222.55 649.4 223.4C654.27 224.25 659.13 225.3 664 226.2C668.87 227.1 676.17 228.37 678.6 228.8" stroke="#5ec962" stroke-width="1.7" fill="none" stroke-linejoin="round"/><path d="M503.4 216.4L505.4 218.9L503.4 221.4L501.4 218.9Z" fill="#5ec962"/><path d="M518 214.9L520 217.4L518 219.9L516 217.4Z" fill="#5ec962"/><path d="M532.6 214.1L534.6 216.6L532.6 219.1L530.6 216.6Z" fill="#5ec962"/><path d="M547.2 213.5L549.2 216L547.2 218.5L545.2 216Z" fill="#5ec962"/><path d="M561.8 213.5L563.8 216L561.8 218.5L559.8 216Z" fill="#5ec962"/><path d="M576.4 213.8L578.4 216.3L576.4 218.8L574.4 216.3Z" fill="#5ec962"/><path d="M591 214.5L593 217L591 219.5L589 217Z" fill="#5ec962"/><path d="M605.6 215.5L607.6 218L605.6 220.5L603.6 218Z" fill="#5ec962"/><path d="M620.2 216.8L622.2 219.3L620.2 221.8L618.2 219.3Z" fill="#5ec962"/><path d="M634.8 218.6L636.8 221.1L634.8 223.6L632.8 221.1Z" fill="#5ec962"/><path d="M649.4 220.9L651.4 223.4L649.4 225.9L647.4 223.4Z" fill="#5ec962"/><path d="M664 223.7L666 226.2L664 228.7L662 226.2Z" fill="#5ec962"/><path d="M678.6 226.3L680.6 228.8L678.6 231.3L676.6 228.8Z" fill="#5ec962"/><path d="M503.4 216C505.83 215.78 513.13 215.07 518 214.7C522.87 214.33 527.73 214.07 532.6 213.8C537.47 213.53 542.33 213.32 547.2 213.1C552.07 212.88 556.93 212.75 561.8 212.5C566.67 212.25 571.53 211.95 576.4 211.6C581.27 211.25 586.13 210.78 591 210.4C595.87 210.02 600.73 209.87 605.6 209.3C610.47 208.73 615.33 207.75 620.2 207C625.07 206.25 629.93 205.5 634.8 204.8C639.67 204.1 644.53 203.33 649.4 202.8C654.27 202.27 659.13 202.07 664 201.6C668.87 201.13 676.17 200.27 678.6 200" stroke="#fde725" stroke-width="1.7" fill="none" stroke-linejoin="round"/><path d="M503.4 218.2L505.6 213.8L501.2 213.8Z" fill="#fde725"/><path d="M518 216.9L520.2 212.5L515.8 212.5Z" fill="#fde725"/><path d="M532.6 216L534.8 211.6L530.4 211.6Z" fill="#fde725"/><path d="M547.2 215.3L549.4 210.9L545 210.9Z" fill="#fde725"/><path d="M561.8 214.7L564 210.3L559.6 210.3Z" fill="#fde725"/><path d="M576.4 213.8L578.6 209.4L574.2 209.4Z" fill="#fde725"/><path d="M591 212.6L593.2 208.2L588.8 208.2Z" fill="#fde725"/><path d="M605.6 211.5L607.8 207.1L603.4 207.1Z" fill="#fde725"/><path d="M620.2 209.2L622.4 204.8L618 204.8Z" fill="#fde725"/><path d="M634.8 207L637 202.6L632.6 202.6Z" fill="#fde725"/><path d="M649.4 205L651.6 200.6L647.2 200.6Z" fill="#fde725"/><path d="M664 203.8L666.2 199.4L661.8 199.4Z" fill="#fde725"/><path d="M678.6 202.2L680.8 197.8L676.4 197.8Z" fill="#fde725"/></g>
<path d="M503.4 225.78H678.6" stroke="#000" stroke-width="1.35" stroke-dasharray="1.35 2.221" stroke-dashoffset="0.45" fill="none"/>
<rect x="506.5" y="254.2" width="57.7" height="46" rx="1.5" fill="#fff" fill-opacity="0.8" stroke="#ccc" stroke-opacity="0.8" stroke-width="0.6"/>
<path d="M507.8 258.6H522.5" stroke="#440154" stroke-width="1.7"/>
<circle cx="515.2" cy="258.6" r="2" fill="#440154"/>
<text x="526.9" y="261.1" font-size="6.4" text-anchor="start" textLength="26.6" lengthAdjust="spacingAndGlyphs">Active low</text>
<path d="M507.8 267.55H522.5" stroke="#3b528b" stroke-width="1.7"/>
<rect x="513.3" y="265.65" width="3.8" height="3.8" fill="#3b528b"/>
<text x="526.9" y="270.05" font-size="6.4" text-anchor="start" textLength="35.2" lengthAdjust="spacingAndGlyphs">Active middle</text>
<path d="M507.8 276.5H522.5" stroke="#21918c" stroke-width="1.7"/>
<path d="M515.2 274.3L517.4 278.7L513 278.7Z" fill="#21918c"/>
<text x="526.9" y="279" font-size="6.4" text-anchor="start" textLength="28.8" lengthAdjust="spacingAndGlyphs">Active high</text>
<path d="M507.8 285.45H522.5" stroke="#5ec962" stroke-width="1.7"/>
<path d="M515.2 282.95L517.2 285.45L515.2 287.95L513.2 285.45Z" fill="#5ec962"/>
<text x="526.9" y="287.95" font-size="6.4" text-anchor="start" textLength="28.9" lengthAdjust="spacingAndGlyphs">Retired low</text>
<path d="M507.8 294.4H522.5" stroke="#fde725" stroke-width="1.7"/>
<path d="M515.2 296.6L517.4 292.2L513 292.2Z" fill="#fde725"/>
<text x="526.9" y="296.9" font-size="6.4" text-anchor="start" textLength="31.2" lengthAdjust="spacingAndGlyphs">Retired high</text>
<rect x="503.4" y="190.4" width="175.2" height="113.2" fill="none" stroke="#000" stroke-opacity="0.55" stroke-width="0.65"/>
<path d="M503.4 303.6v2.0M532.6 303.6v2.0M561.8 303.6v2.0M591 303.6v2.0M620.2 303.6v2.0M649.4 303.6v2.0M678.6 303.6v2.0M503.4 296.52h-2.0M503.4 282.38h-2.0M503.4 268.23h-2.0M503.4 254.08h-2.0M503.4 239.93h-2.0M503.4 225.78h-2.0M503.4 211.62h-2.0M503.4 197.47h-2.0" stroke="#000" stroke-opacity="0.55" stroke-width="0.65"/>
<text x="500.6" y="299.72" font-size="7.5" text-anchor="end" textLength="13.7" lengthAdjust="spacingAndGlyphs">0.990</text>
<text x="500.6" y="285.57" font-size="7.5" text-anchor="end" textLength="13.7" lengthAdjust="spacingAndGlyphs">0.992</text>
<text x="500.6" y="271.43" font-size="7.5" text-anchor="end" textLength="13.7" lengthAdjust="spacingAndGlyphs">0.994</text>
<text x="500.6" y="257.28" font-size="7.5" text-anchor="end" textLength="13.7" lengthAdjust="spacingAndGlyphs">0.996</text>
<text x="500.6" y="243.12" font-size="7.5" text-anchor="end" textLength="13.7" lengthAdjust="spacingAndGlyphs">0.998</text>
<text x="500.6" y="228.97" font-size="7.5" text-anchor="end" textLength="13.7" lengthAdjust="spacingAndGlyphs">1.000</text>
<text x="500.6" y="214.82" font-size="7.5" text-anchor="end" textLength="13.7" lengthAdjust="spacingAndGlyphs">1.002</text>
<text x="500.6" y="200.67" font-size="7.5" text-anchor="end" textLength="13.7" lengthAdjust="spacingAndGlyphs">1.004</text>
<text x="487.7" y="311" font-size="7.5" text-anchor="start" textLength="17" lengthAdjust="spacingAndGlyphs">Const.</text>
<text x="507.7" y="311" font-size="7.5" text-anchor="start" textLength="10.9" lengthAdjust="spacingAndGlyphs">Em.</text>
<text x="532.6" y="311" font-size="7.5" text-anchor="middle" textLength="6" lengthAdjust="spacingAndGlyphs">10</text>
<text x="561.8" y="311" font-size="7.5" text-anchor="middle" textLength="6" lengthAdjust="spacingAndGlyphs">20</text>
<text x="591" y="311" font-size="7.5" text-anchor="middle" textLength="6" lengthAdjust="spacingAndGlyphs">30</text>
<text x="620.2" y="311" font-size="7.5" text-anchor="middle" textLength="6" lengthAdjust="spacingAndGlyphs">40</text>
<text x="649.4" y="311" font-size="7.5" text-anchor="middle" textLength="6" lengthAdjust="spacingAndGlyphs">50</text>
<text x="678.6" y="311" font-size="7.5" text-anchor="middle" textLength="6" lengthAdjust="spacingAndGlyphs">60</text>
<text x="591" y="318.8" font-size="7.4" text-anchor="middle" textLength="72.3" lengthAdjust="spacingAndGlyphs">Policy Stringency (in %)</text>
<text transform="translate(484.2 246.7) rotate(-90)" x="0" y="0" font-size="7.4" text-anchor="middle" textLength="43.4" lengthAdjust="spacingAndGlyphs">Welfare (in %)</text>
<text transform="translate(549.5 352) scale(1.12 1)" x="0" y="0" font-size="18.8" font-style="italic">η</text>
<path d="M566.2 345.4h12.9M566.2 348.6h12.9" stroke="#1a1a1a" stroke-width="1.0"/>
<text x="609.7" y="351.7" font-size="19.5" text-anchor="end" textLength="24.0" lengthAdjust="spacingAndGlyphs">4.0</text>
<clipPath id="clip262_373"><rect x="262.5" y="373.2" width="182.1" height="120.8"/></clipPath>
<path d="M292.85 373.2V494M323.2 373.2V494M353.55 373.2V494M383.9 373.2V494M414.25 373.2V494" stroke="#000" stroke-opacity="0.14" stroke-width="0.7" fill="none"/>
<path d="M262.5 486.45H444.6M262.5 471.35H444.6M262.5 456.25H444.6M262.5 441.15H444.6M262.5 426.05H444.6M262.5 410.95H444.6M262.5 395.85H444.6M262.5 380.75H444.6" stroke="#000" stroke-opacity="0.14" stroke-width="0.7" fill="none"/>
<g clip-path="url(#clip262_373)"><path d="M262.5 412.9C265.03 413.13 272.62 413.85 277.68 414.3C282.73 414.75 287.79 415.12 292.85 415.6C297.91 416.08 302.97 416.63 308.02 417.2C313.08 417.77 318.14 418.37 323.2 419C328.26 419.63 333.32 420.3 338.38 421C343.43 421.7 348.49 422.42 353.55 423.2C358.61 423.98 363.67 424.83 368.73 425.7C373.78 426.57 378.84 427.43 383.9 428.4C388.96 429.37 394.02 430.43 399.07 431.5C404.13 432.57 409.19 433.63 414.25 434.8C419.31 435.97 424.37 437.22 429.42 438.5C434.48 439.78 442.07 441.83 444.6 442.5" stroke="#440154" stroke-width="1.7" fill="none" stroke-linejoin="round"/><circle cx="262.5" cy="412.9" r="2" fill="#440154"/><circle cx="277.68" cy="414.3" r="2" fill="#440154"/><circle cx="292.85" cy="415.6" r="2" fill="#440154"/><circle cx="308.02" cy="417.2" r="2" fill="#440154"/><circle cx="323.2" cy="419" r="2" fill="#440154"/><circle cx="338.38" cy="421" r="2" fill="#440154"/><circle cx="353.55" cy="423.2" r="2" fill="#440154"/><circle cx="368.73" cy="425.7" r="2" fill="#440154"/><circle cx="383.9" cy="428.4" r="2" fill="#440154"/><circle cx="399.07" cy="431.5" r="2" fill="#440154"/><circle cx="414.25" cy="434.8" r="2" fill="#440154"/><circle cx="429.42" cy="438.5" r="2" fill="#440154"/><circle cx="444.6" cy="442.5" r="2" fill="#440154"/><path d="M262.5 416.3C265.03 416.63 272.62 417.58 277.68 418.3C282.73 419.02 287.79 419.88 292.85 420.6C297.91 421.32 302.97 421.9 308.02 422.6C313.08 423.3 318.14 424.07 323.2 424.8C328.26 425.53 333.32 426.23 338.38 427C343.43 427.77 348.49 428.55 353.55 429.4C358.61 430.25 363.67 431.25 368.73 432.1C373.78 432.95 378.84 433.7 383.9 434.5C388.96 435.3 394.02 436.03 399.07 436.9C404.13 437.77 409.19 438.75 414.25 439.7C419.31 440.65 424.37 441.52 429.42 442.6C434.48 443.68 442.07 445.6 444.6 446.2" stroke="#3b528b" stroke-width="1.7" fill="none" stroke-linejoin="round"/><rect x="260.6" y="414.4" width="3.8" height="3.8" fill="#3b528b"/><rect x="275.78" y="416.4" width="3.8" height="3.8" fill="#3b528b"/><rect x="290.95" y="418.7" width="3.8" height="3.8" fill="#3b528b"/><rect x="306.12" y="420.7" width="3.8" height="3.8" fill="#3b528b"/><rect x="321.3" y="422.9" width="3.8" height="3.8" fill="#3b528b"/><rect x="336.48" y="425.1" width="3.8" height="3.8" fill="#3b528b"/><rect x="351.65" y="427.5" width="3.8" height="3.8" fill="#3b528b"/><rect x="366.83" y="430.2" width="3.8" height="3.8" fill="#3b528b"/><rect x="382" y="432.6" width="3.8" height="3.8" fill="#3b528b"/><rect x="397.18" y="435" width="3.8" height="3.8" fill="#3b528b"/><rect x="412.35" y="437.8" width="3.8" height="3.8" fill="#3b528b"/><rect x="427.52" y="440.7" width="3.8" height="3.8" fill="#3b528b"/><rect x="442.7" y="444.3" width="3.8" height="3.8" fill="#3b528b"/><path d="M262.5 417.6C265.03 418.05 272.62 419.4 277.68 420.3C282.73 421.2 287.79 422.17 292.85 423C297.91 423.83 302.97 424.52 308.02 425.3C313.08 426.08 318.14 426.97 323.2 427.7C328.26 428.43 333.32 429.05 338.38 429.7C343.43 430.35 348.49 431.03 353.55 431.6C358.61 432.17 363.67 432.6 368.73 433.1C373.78 433.6 378.84 434.13 383.9 434.6C388.96 435.07 394.02 435.52 399.07 435.9C404.13 436.28 409.19 436.52 414.25 436.9C419.31 437.28 424.37 437.7 429.42 438.2C434.48 438.7 442.07 439.62 444.6 439.9" stroke="#21918c" stroke-width="1.7" fill="none" stroke-linejoin="round"/><path d="M262.5 415.4L264.7 419.8L260.3 419.8Z" fill="#21918c"/><path d="M277.68 418.1L279.88 422.5L275.48 422.5Z" fill="#21918c"/><path d="M292.85 420.8L295.05 425.2L290.65 425.2Z" fill="#21918c"/><path d="M308.02 423.1L310.22 427.5L305.82 427.5Z" fill="#21918c"/><path d="M323.2 425.5L325.4 429.9L321 429.9Z" fill="#21918c"/><path d="M338.38 427.5L340.57 431.9L336.18 431.9Z" fill="#21918c"/><path d="M353.55 429.4L355.75 433.8L351.35 433.8Z" fill="#21918c"/><path d="M368.73 430.9L370.93 435.3L366.53 435.3Z" fill="#21918c"/><path d="M383.9 432.4L386.1 436.8L381.7 436.8Z" fill="#21918c"/><path d="M399.07 433.7L401.27 438.1L396.88 438.1Z" fill="#21918c"/><path d="M414.25 434.7L416.45 439.1L412.05 439.1Z" fill="#21918c"/><path d="M429.42 436L431.62 440.4L427.22 440.4Z" fill="#21918c"/><path d="M444.6 437.7L446.8 442.1L442.4 442.1Z" fill="#21918c"/><path d="M262.5 403.8C265.03 403.6 272.62 402.93 277.68 402.6C282.73 402.27 287.79 402.02 292.85 401.8C297.91 401.58 302.97 401.38 308.02 401.3C313.08 401.22 318.14 401.27 323.2 401.3C328.26 401.33 333.32 401.35 338.38 401.5C343.43 401.65 348.49 401.93 353.55 402.2C358.61 402.47 363.67 402.7 368.73 403.1C373.78 403.5 378.84 404.03 383.9 404.6C388.96 405.17 394.02 405.73 399.07 406.5C404.13 407.27 409.19 408.23 414.25 409.2C419.31 410.17 424.37 411.45 429.42 412.3C434.48 413.15 442.07 413.97 444.6 414.3" stroke="#5ec962" stroke-width="1.7" fill="none" stroke-linejoin="round"/><path d="M262.5 401.3L264.5 403.8L262.5 406.3L260.5 403.8Z" fill="#5ec962"/><path d="M277.68 400.1L279.68 402.6L277.68 405.1L275.68 402.6Z" fill="#5ec962"/><path d="M292.85 399.3L294.85 401.8L292.85 404.3L290.85 401.8Z" fill="#5ec962"/><path d="M308.02 398.8L310.02 401.3L308.02 403.8L306.02 401.3Z" fill="#5ec962"/><path d="M323.2 398.8L325.2 401.3L323.2 403.8L321.2 401.3Z" fill="#5ec962"/><path d="M338.38 399L340.38 401.5L338.38 404L336.38 401.5Z" fill="#5ec962"/><path d="M353.55 399.7L355.55 402.2L353.55 404.7L351.55 402.2Z" fill="#5ec962"/><path d="M368.73 400.6L370.73 403.1L368.73 405.6L366.73 403.1Z" fill="#5ec962"/><path d="M383.9 402.1L385.9 404.6L383.9 407.1L381.9 404.6Z" fill="#5ec962"/><path d="M399.07 404L401.07 406.5L399.07 409L397.07 406.5Z" fill="#5ec962"/><path d="M414.25 406.7L416.25 409.2L414.25 411.7L412.25 409.2Z" fill="#5ec962"/><path d="M429.42 409.8L431.42 412.3L429.42 414.8L427.42 412.3Z" fill="#5ec962"/><path d="M444.6 411.8L446.6 414.3L444.6 416.8L442.6 414.3Z" fill="#5ec962"/><path d="M262.5 400.9C265.03 400.67 272.62 399.92 277.68 399.5C282.73 399.08 287.79 398.73 292.85 398.4C297.91 398.07 302.97 397.83 308.02 397.5C313.08 397.17 318.14 396.8 323.2 396.4C328.26 396 333.32 395.62 338.38 395.1C343.43 394.58 348.49 394.02 353.55 393.3C358.61 392.58 363.67 391.67 368.73 390.8C373.78 389.93 378.84 388.82 383.9 388.1C388.96 387.38 394.02 387.28 399.07 386.5C404.13 385.72 409.19 384.48 414.25 383.4C419.31 382.32 424.37 381.12 429.42 380C434.48 378.88 442.07 377.25 444.6 376.7" stroke="#fde725" stroke-width="1.7" fill="none" stroke-linejoin="round"/><path d="M262.5 403.1L264.7 398.7L260.3 398.7Z" fill="#fde725"/><path d="M277.68 401.7L279.88 397.3L275.48 397.3Z" fill="#fde725"/><path d="M292.85 400.6L295.05 396.2L290.65 396.2Z" fill="#fde725"/><path d="M308.02 399.7L310.22 395.3L305.82 395.3Z" fill="#fde725"/><path d="M323.2 398.6L325.4 394.2L321 394.2Z" fill="#fde725"/><path d="M338.38 397.3L340.57 392.9L336.18 392.9Z" fill="#fde725"/><path d="M353.55 395.5L355.75 391.1L351.35 391.1Z" fill="#fde725"/><path d="M368.73 393L370.93 388.6L366.53 388.6Z" fill="#fde725"/><path d="M383.9 390.3L386.1 385.9L381.7 385.9Z" fill="#fde725"/><path d="M399.07 388.7L401.27 384.3L396.88 384.3Z" fill="#fde725"/><path d="M414.25 385.6L416.45 381.2L412.05 381.2Z" fill="#fde725"/><path d="M429.42 382.2L431.62 377.8L427.22 377.8Z" fill="#fde725"/><path d="M444.6 378.9L446.8 374.5L442.4 374.5Z" fill="#fde725"/></g>
<path d="M262.5 410.95H444.6" stroke="#000" stroke-width="1.35" stroke-dasharray="1.35 2.221" stroke-dashoffset="0.45" fill="none"/>
<rect x="265.6" y="444.6" width="57.7" height="46" rx="1.5" fill="#fff" fill-opacity="0.8" stroke="#ccc" stroke-opacity="0.8" stroke-width="0.6"/>
<path d="M266.9 449H281.6" stroke="#440154" stroke-width="1.7"/>
<circle cx="274.3" cy="449" r="2" fill="#440154"/>
<text x="286" y="451.5" font-size="6.4" text-anchor="start" textLength="26.6" lengthAdjust="spacingAndGlyphs">Active low</text>
<path d="M266.9 457.95H281.6" stroke="#3b528b" stroke-width="1.7"/>
<rect x="272.4" y="456.05" width="3.8" height="3.8" fill="#3b528b"/>
<text x="286" y="460.45" font-size="6.4" text-anchor="start" textLength="35.2" lengthAdjust="spacingAndGlyphs">Active middle</text>
<path d="M266.9 466.9H281.6" stroke="#21918c" stroke-width="1.7"/>
<path d="M274.3 464.7L276.5 469.1L272.1 469.1Z" fill="#21918c"/>
<text x="286" y="469.4" font-size="6.4" text-anchor="start" textLength="28.8" lengthAdjust="spacingAndGlyphs">Active high</text>
<path d="M266.9 475.85H281.6" stroke="#5ec962" stroke-width="1.7"/>
<path d="M274.3 473.35L276.3 475.85L274.3 478.35L272.3 475.85Z" fill="#5ec962"/>
<text x="286" y="478.35" font-size="6.4" text-anchor="start" textLength="28.9" lengthAdjust="spacingAndGlyphs">Retired low</text>
<path d="M266.9 484.8H281.6" stroke="#fde725" stroke-width="1.7"/>
<path d="M274.3 487L276.5 482.6L272.1 482.6Z" fill="#fde725"/>
<text x="286" y="487.3" font-size="6.4" text-anchor="start" textLength="31.2" lengthAdjust="spacingAndGlyphs">Retired high</text>
<rect x="262.5" y="373.2" width="182.1" height="120.8" fill="none" stroke="#000" stroke-opacity="0.55" stroke-width="0.65"/>
<path d="M262.5 494v2.0M292.85 494v2.0M323.2 494v2.0M353.55 494v2.0M383.9 494v2.0M414.25 494v2.0M444.6 494v2.0M262.5 486.45h-2.0M262.5 471.35h-2.0M262.5 456.25h-2.0M262.5 441.15h-2.0M262.5 426.05h-2.0M262.5 410.95h-2.0M262.5 395.85h-2.0M262.5 380.75h-2.0" stroke="#000" stroke-opacity="0.55" stroke-width="0.65"/>
<text x="259.7" y="489.65" font-size="7.5" text-anchor="end" textLength="13.7" lengthAdjust="spacingAndGlyphs">0.990</text>
<text x="259.7" y="474.55" font-size="7.5" text-anchor="end" textLength="13.7" lengthAdjust="spacingAndGlyphs">0.992</text>
<text x="259.7" y="459.45" font-size="7.5" text-anchor="end" textLength="13.7" lengthAdjust="spacingAndGlyphs">0.994</text>
<text x="259.7" y="444.35" font-size="7.5" text-anchor="end" textLength="13.7" lengthAdjust="spacingAndGlyphs">0.996</text>
<text x="259.7" y="429.25" font-size="7.5" text-anchor="end" textLength="13.7" lengthAdjust="spacingAndGlyphs">0.998</text>
<text x="259.7" y="414.15" font-size="7.5" text-anchor="end" textLength="13.7" lengthAdjust="spacingAndGlyphs">1.000</text>
<text x="259.7" y="399.05" font-size="7.5" text-anchor="end" textLength="13.7" lengthAdjust="spacingAndGlyphs">1.002</text>
<text x="259.7" y="383.95" font-size="7.5" text-anchor="end" textLength="13.7" lengthAdjust="spacingAndGlyphs">1.004</text>
<text x="246.8" y="501.4" font-size="7.5" text-anchor="start" textLength="17" lengthAdjust="spacingAndGlyphs">Const.</text>
<text x="266.8" y="501.4" font-size="7.5" text-anchor="start" textLength="10.9" lengthAdjust="spacingAndGlyphs">Em.</text>
<text x="292.85" y="501.4" font-size="7.5" text-anchor="middle" textLength="6" lengthAdjust="spacingAndGlyphs">10</text>
<text x="323.2" y="501.4" font-size="7.5" text-anchor="middle" textLength="6" lengthAdjust="spacingAndGlyphs">20</text>
<text x="353.55" y="501.4" font-size="7.5" text-anchor="middle" textLength="6" lengthAdjust="spacingAndGlyphs">30</text>
<text x="383.9" y="501.4" font-size="7.5" text-anchor="middle" textLength="6" lengthAdjust="spacingAndGlyphs">40</text>
<text x="414.25" y="501.4" font-size="7.5" text-anchor="middle" textLength="6" lengthAdjust="spacingAndGlyphs">50</text>
<text x="444.6" y="501.4" font-size="7.5" text-anchor="middle" textLength="6" lengthAdjust="spacingAndGlyphs">60</text>
<text x="353.55" y="509.2" font-size="7.4" text-anchor="middle" textLength="72.3" lengthAdjust="spacingAndGlyphs">Policy Stringency (in %)</text>
<text transform="translate(243.3 433.3) rotate(-90)" x="0" y="0" font-size="7.4" text-anchor="middle" textLength="43.4" lengthAdjust="spacingAndGlyphs">Welfare (in %)</text>
<text transform="translate(312.2 538.3) scale(1.12 1)" x="0" y="0" font-size="18.8" font-style="italic">η</text>
<path d="M328.9 531.7h12.9M328.9 534.9h12.9" stroke="#1a1a1a" stroke-width="1.0"/>
<text x="372.4" y="538" font-size="19.5" text-anchor="end" textLength="24.0" lengthAdjust="spacingAndGlyphs">4.5</text>
</svg></body></html>
